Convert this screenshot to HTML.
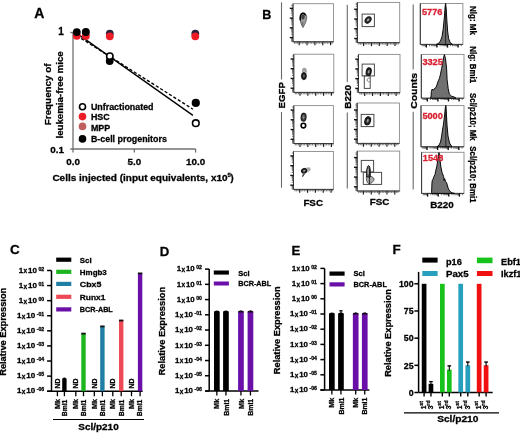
<!DOCTYPE html>
<html><head><meta charset="utf-8"><style>
html,body{margin:0;padding:0;background:#fff;}
svg{display:block;filter:blur(0.3px);}
text{font-family:"Liberation Sans",sans-serif;font-weight:bold;stroke:#000;stroke-width:0.28px;}
</style></head><body>
<svg width="520" height="434" viewBox="0 0 520 434">
<rect width="520" height="434" fill="#fff"/>
<text x="34.2" y="18.2" font-size="14">A</text>
<line x1="73" y1="32.5" x2="73" y2="149.6" stroke="#707070" stroke-width="1.3"/>
<line x1="70.3" y1="32.5" x2="73" y2="32.5" stroke="#707070" stroke-width="1.3"/>
<line x1="70.3" y1="149" x2="195.6" y2="149" stroke="#707070" stroke-width="1.3"/>
<line x1="73" y1="149" x2="73" y2="152.6" stroke="#707070" stroke-width="1.3"/>
<line x1="134.3" y1="149" x2="134.3" y2="152.6" stroke="#707070" stroke-width="1.3"/>
<line x1="195.6" y1="149" x2="195.6" y2="152.6" stroke="#707070" stroke-width="1.3"/>
<text x="63.9" y="35.4" font-size="10" text-anchor="end">1</text>
<text x="64.0" y="152.7" font-size="9.9" text-anchor="end">0.1</text>
<text x="73.1" y="164.6" font-size="9.9" text-anchor="middle">0.0</text>
<text x="134.3" y="164.6" font-size="9.9" text-anchor="middle">5.0</text>
<text x="195.7" y="164.6" font-size="9.9" text-anchor="middle">10.0</text>
<text x="52.4" y="180.7" font-size="9.4" textLength="175.2" lengthAdjust="spacingAndGlyphs">Cells injected (input equivalents, x10</text>
<text x="227.6" y="177.0" font-size="6.0">5</text>
<text x="230.6" y="180.7" font-size="9.4">)</text>
<text x="51.4" y="94.3" font-size="9.4" text-anchor="middle" transform="rotate(-90 51.4 94.3)" textLength="61.8" lengthAdjust="spacingAndGlyphs">Frequency of</text>
<text x="62.7" y="94.9" font-size="9.3" text-anchor="middle" transform="rotate(-90 62.7 94.9)" textLength="87.2" lengthAdjust="spacingAndGlyphs">leukemia-free mice</text>
<line x1="76.8" y1="33.4" x2="192.9" y2="115.4" stroke="#000" stroke-width="1.35"/>
<line x1="76.8" y1="35.6" x2="192.9" y2="109.2" stroke="#000" stroke-width="1.35" stroke-dasharray="3.2,2"/>
<circle cx="76.8" cy="35.8" r="3.9" fill="#ee1c24" stroke="none" stroke-width="1"/>
<circle cx="85.85" cy="35.9" r="3.9" fill="#ee1c24" stroke="none" stroke-width="1"/>
<circle cx="76.8" cy="32.1" r="3.9" fill="#000" stroke="none" stroke-width="1"/>
<circle cx="85.85" cy="31.9" r="4.0" fill="#000" stroke="none" stroke-width="1"/>
<circle cx="109.8" cy="33.6" r="3.9" fill="#24243e" stroke="none" stroke-width="1"/>
<circle cx="109.8" cy="36.3" r="3.9" fill="#ee1c24" stroke="none" stroke-width="1"/>
<circle cx="195.3" cy="33.6" r="3.9" fill="#24243e" stroke="none" stroke-width="1"/>
<circle cx="195.3" cy="36.3" r="3.9" fill="#ee1c24" stroke="none" stroke-width="1"/>
<circle cx="109.7" cy="61.0" r="3.9" fill="#000" stroke="none" stroke-width="1"/>
<circle cx="109.8" cy="56.2" r="3.2" fill="#fff" stroke="#000" stroke-width="1.6"/>
<circle cx="195.8" cy="102.9" r="4.1" fill="#000" stroke="none" stroke-width="1"/>
<circle cx="195.8" cy="123.2" r="3.3" fill="#fff" stroke="#000" stroke-width="1.6"/>
<circle cx="82.5" cy="106.7" r="3.0" fill="#fff" stroke="#000" stroke-width="1.6"/>
<circle cx="82.5" cy="116.6" r="3.8" fill="#ee1c24" stroke="none" stroke-width="1"/>
<circle cx="82.5" cy="126.4" r="3.8" fill="#c0605e" stroke="none" stroke-width="1"/>
<circle cx="82.5" cy="138.9" r="3.8" fill="#000" stroke="none" stroke-width="1"/>
<text x="90.9" y="109.8" font-size="8.9">Unfractionated</text>
<text x="90.9" y="120.2" font-size="8.9">HSC</text>
<text x="90.9" y="130.9" font-size="8.9">MPP</text>
<text x="90.9" y="141.9" font-size="8.9">B-cell progenitors</text>
<text x="262.3" y="18.6" font-size="12.6">B</text>
<line x1="281.5" y1="2.3" x2="281.5" y2="79.5" stroke="#6a6a6a" stroke-width="1.1"/>
<line x1="281.5" y1="112" x2="281.5" y2="187.7" stroke="#6a6a6a" stroke-width="1.1"/>
<text x="284.6" y="95.3" font-size="9.6" text-anchor="middle" transform="rotate(-90 284.6 95.3)" textLength="26.2" lengthAdjust="spacingAndGlyphs">EGFP</text>
<line x1="347.3" y1="4.8" x2="347.3" y2="82.0" stroke="#6a6a6a" stroke-width="1.1"/>
<line x1="347.3" y1="112.5" x2="347.3" y2="188.5" stroke="#6a6a6a" stroke-width="1.1"/>
<text x="351.3" y="96.9" font-size="9.6" text-anchor="middle" transform="rotate(-90 351.3 96.9)" textLength="23.8" lengthAdjust="spacingAndGlyphs">B220</text>
<line x1="413.2" y1="4.5" x2="413.2" y2="69.6" stroke="#6a6a6a" stroke-width="1.1"/>
<line x1="413.2" y1="111.7" x2="413.2" y2="189.4" stroke="#6a6a6a" stroke-width="1.1"/>
<text x="417.0" y="90.9" font-size="9.6" text-anchor="middle" transform="rotate(-90 417.0 90.9)" textLength="35.8" lengthAdjust="spacingAndGlyphs">Counts</text>
<rect x="293.00" y="3.70" width="40.50" height="38.10" fill="#fff" stroke="#8a8a8a" stroke-width="0.9"/>
<line x1="293" y1="3.7" x2="293" y2="41.8" stroke="#333" stroke-width="1"/>
<line x1="293" y1="41.8" x2="333.5" y2="41.8" stroke="#333" stroke-width="1"/>
<line x1="294.49" y1="41.8" x2="294.49" y2="43.699999999999996" stroke="#555" stroke-width="0.85"/>
<line x1="296.06" y1="41.8" x2="296.06" y2="43.699999999999996" stroke="#555" stroke-width="0.85"/>
<line x1="297.63" y1="41.8" x2="297.63" y2="43.699999999999996" stroke="#555" stroke-width="0.85"/>
<line x1="299.2" y1="41.8" x2="299.2" y2="45.199999999999996" stroke="#222" stroke-width="1.2"/>
<line x1="300.77" y1="41.8" x2="300.77" y2="43.699999999999996" stroke="#555" stroke-width="0.85"/>
<line x1="302.34" y1="41.8" x2="302.34" y2="43.699999999999996" stroke="#555" stroke-width="0.85"/>
<line x1="303.91" y1="41.8" x2="303.91" y2="43.699999999999996" stroke="#555" stroke-width="0.85"/>
<line x1="305.48" y1="41.8" x2="305.48" y2="43.699999999999996" stroke="#555" stroke-width="0.85"/>
<line x1="307.05" y1="41.8" x2="307.05" y2="45.199999999999996" stroke="#222" stroke-width="1.2"/>
<line x1="308.62" y1="41.8" x2="308.62" y2="43.699999999999996" stroke="#555" stroke-width="0.85"/>
<line x1="310.19" y1="41.8" x2="310.19" y2="43.699999999999996" stroke="#555" stroke-width="0.85"/>
<line x1="311.76" y1="41.8" x2="311.76" y2="43.699999999999996" stroke="#555" stroke-width="0.85"/>
<line x1="313.33" y1="41.8" x2="313.33" y2="43.699999999999996" stroke="#555" stroke-width="0.85"/>
<line x1="314.9" y1="41.8" x2="314.9" y2="45.199999999999996" stroke="#222" stroke-width="1.2"/>
<line x1="316.47" y1="41.8" x2="316.47" y2="43.699999999999996" stroke="#555" stroke-width="0.85"/>
<line x1="318.04" y1="41.8" x2="318.04" y2="43.699999999999996" stroke="#555" stroke-width="0.85"/>
<line x1="319.61" y1="41.8" x2="319.61" y2="43.699999999999996" stroke="#555" stroke-width="0.85"/>
<line x1="321.18" y1="41.8" x2="321.18" y2="43.699999999999996" stroke="#555" stroke-width="0.85"/>
<line x1="322.75" y1="41.8" x2="322.75" y2="45.199999999999996" stroke="#222" stroke-width="1.2"/>
<line x1="324.32" y1="41.8" x2="324.32" y2="43.699999999999996" stroke="#555" stroke-width="0.85"/>
<line x1="325.89" y1="41.8" x2="325.89" y2="43.699999999999996" stroke="#555" stroke-width="0.85"/>
<line x1="327.46" y1="41.8" x2="327.46" y2="43.699999999999996" stroke="#555" stroke-width="0.85"/>
<line x1="329.03" y1="41.8" x2="329.03" y2="43.699999999999996" stroke="#555" stroke-width="0.85"/>
<line x1="330.6" y1="41.8" x2="330.6" y2="45.199999999999996" stroke="#222" stroke-width="1.2"/>
<line x1="332.17" y1="41.8" x2="332.17" y2="43.699999999999996" stroke="#555" stroke-width="0.85"/>
<line x1="291.3" y1="41.48" x2="293" y2="41.48" stroke="#555" stroke-width="0.85"/>
<line x1="291.3" y1="40.54" x2="293" y2="40.54" stroke="#555" stroke-width="0.85"/>
<line x1="291.3" y1="39.76" x2="293" y2="39.76" stroke="#555" stroke-width="0.85"/>
<line x1="291.3" y1="39.11" x2="293" y2="39.11" stroke="#555" stroke-width="0.85"/>
<line x1="291.3" y1="38.54" x2="293" y2="38.54" stroke="#555" stroke-width="0.85"/>
<line x1="291.3" y1="38.05" x2="293" y2="38.05" stroke="#555" stroke-width="0.85"/>
<line x1="289.8" y1="37.6" x2="293" y2="37.6" stroke="#111" stroke-width="1.4"/>
<line x1="291.3" y1="34.66" x2="293" y2="34.66" stroke="#555" stroke-width="0.85"/>
<line x1="291.3" y1="32.95" x2="293" y2="32.95" stroke="#555" stroke-width="0.85"/>
<line x1="291.3" y1="31.73" x2="293" y2="31.73" stroke="#555" stroke-width="0.85"/>
<line x1="291.3" y1="30.79" x2="293" y2="30.79" stroke="#555" stroke-width="0.85"/>
<line x1="291.3" y1="30.01" x2="293" y2="30.01" stroke="#555" stroke-width="0.85"/>
<line x1="291.3" y1="29.36" x2="293" y2="29.36" stroke="#555" stroke-width="0.85"/>
<line x1="291.3" y1="28.79" x2="293" y2="28.79" stroke="#555" stroke-width="0.85"/>
<line x1="291.3" y1="28.3" x2="293" y2="28.3" stroke="#555" stroke-width="0.85"/>
<line x1="289.8" y1="27.85" x2="293" y2="27.85" stroke="#111" stroke-width="1.4"/>
<line x1="291.3" y1="24.91" x2="293" y2="24.91" stroke="#555" stroke-width="0.85"/>
<line x1="291.3" y1="23.2" x2="293" y2="23.2" stroke="#555" stroke-width="0.85"/>
<line x1="291.3" y1="21.98" x2="293" y2="21.98" stroke="#555" stroke-width="0.85"/>
<line x1="291.3" y1="21.04" x2="293" y2="21.04" stroke="#555" stroke-width="0.85"/>
<line x1="291.3" y1="20.26" x2="293" y2="20.26" stroke="#555" stroke-width="0.85"/>
<line x1="291.3" y1="19.61" x2="293" y2="19.61" stroke="#555" stroke-width="0.85"/>
<line x1="291.3" y1="19.04" x2="293" y2="19.04" stroke="#555" stroke-width="0.85"/>
<line x1="291.3" y1="18.55" x2="293" y2="18.55" stroke="#555" stroke-width="0.85"/>
<line x1="289.8" y1="18.1" x2="293" y2="18.1" stroke="#111" stroke-width="1.4"/>
<line x1="291.3" y1="15.16" x2="293" y2="15.16" stroke="#555" stroke-width="0.85"/>
<line x1="291.3" y1="13.45" x2="293" y2="13.45" stroke="#555" stroke-width="0.85"/>
<line x1="291.3" y1="12.23" x2="293" y2="12.23" stroke="#555" stroke-width="0.85"/>
<line x1="291.3" y1="11.29" x2="293" y2="11.29" stroke="#555" stroke-width="0.85"/>
<line x1="291.3" y1="10.51" x2="293" y2="10.51" stroke="#555" stroke-width="0.85"/>
<line x1="291.3" y1="9.86" x2="293" y2="9.86" stroke="#555" stroke-width="0.85"/>
<line x1="291.3" y1="9.29" x2="293" y2="9.29" stroke="#555" stroke-width="0.85"/>
<line x1="291.3" y1="8.8" x2="293" y2="8.8" stroke="#555" stroke-width="0.85"/>
<line x1="289.8" y1="8.35" x2="293" y2="8.35" stroke="#111" stroke-width="1.4"/>
<line x1="291.3" y1="5.41" x2="293" y2="5.41" stroke="#555" stroke-width="0.85"/>
<rect x="293.80" y="54.20" width="40.00" height="38.20" fill="#fff" stroke="#8a8a8a" stroke-width="0.9"/>
<line x1="293.8" y1="54.2" x2="293.8" y2="92.4" stroke="#333" stroke-width="1"/>
<line x1="293.8" y1="92.4" x2="333.8" y2="92.4" stroke="#333" stroke-width="1"/>
<line x1="295.29" y1="92.4" x2="295.29" y2="94.30000000000001" stroke="#555" stroke-width="0.85"/>
<line x1="296.86" y1="92.4" x2="296.86" y2="94.30000000000001" stroke="#555" stroke-width="0.85"/>
<line x1="298.43" y1="92.4" x2="298.43" y2="94.30000000000001" stroke="#555" stroke-width="0.85"/>
<line x1="300.0" y1="92.4" x2="300.0" y2="95.80000000000001" stroke="#222" stroke-width="1.2"/>
<line x1="301.57" y1="92.4" x2="301.57" y2="94.30000000000001" stroke="#555" stroke-width="0.85"/>
<line x1="303.14" y1="92.4" x2="303.14" y2="94.30000000000001" stroke="#555" stroke-width="0.85"/>
<line x1="304.71" y1="92.4" x2="304.71" y2="94.30000000000001" stroke="#555" stroke-width="0.85"/>
<line x1="306.28" y1="92.4" x2="306.28" y2="94.30000000000001" stroke="#555" stroke-width="0.85"/>
<line x1="307.85" y1="92.4" x2="307.85" y2="95.80000000000001" stroke="#222" stroke-width="1.2"/>
<line x1="309.42" y1="92.4" x2="309.42" y2="94.30000000000001" stroke="#555" stroke-width="0.85"/>
<line x1="310.99" y1="92.4" x2="310.99" y2="94.30000000000001" stroke="#555" stroke-width="0.85"/>
<line x1="312.56" y1="92.4" x2="312.56" y2="94.30000000000001" stroke="#555" stroke-width="0.85"/>
<line x1="314.13" y1="92.4" x2="314.13" y2="94.30000000000001" stroke="#555" stroke-width="0.85"/>
<line x1="315.7" y1="92.4" x2="315.7" y2="95.80000000000001" stroke="#222" stroke-width="1.2"/>
<line x1="317.27" y1="92.4" x2="317.27" y2="94.30000000000001" stroke="#555" stroke-width="0.85"/>
<line x1="318.84" y1="92.4" x2="318.84" y2="94.30000000000001" stroke="#555" stroke-width="0.85"/>
<line x1="320.41" y1="92.4" x2="320.41" y2="94.30000000000001" stroke="#555" stroke-width="0.85"/>
<line x1="321.98" y1="92.4" x2="321.98" y2="94.30000000000001" stroke="#555" stroke-width="0.85"/>
<line x1="323.55" y1="92.4" x2="323.55" y2="95.80000000000001" stroke="#222" stroke-width="1.2"/>
<line x1="325.12" y1="92.4" x2="325.12" y2="94.30000000000001" stroke="#555" stroke-width="0.85"/>
<line x1="326.69" y1="92.4" x2="326.69" y2="94.30000000000001" stroke="#555" stroke-width="0.85"/>
<line x1="328.26" y1="92.4" x2="328.26" y2="94.30000000000001" stroke="#555" stroke-width="0.85"/>
<line x1="329.83" y1="92.4" x2="329.83" y2="94.30000000000001" stroke="#555" stroke-width="0.85"/>
<line x1="331.4" y1="92.4" x2="331.4" y2="95.80000000000001" stroke="#222" stroke-width="1.2"/>
<line x1="332.97" y1="92.4" x2="332.97" y2="94.30000000000001" stroke="#555" stroke-width="0.85"/>
<line x1="292.1" y1="92.08" x2="293.8" y2="92.08" stroke="#555" stroke-width="0.85"/>
<line x1="292.1" y1="91.14" x2="293.8" y2="91.14" stroke="#555" stroke-width="0.85"/>
<line x1="292.1" y1="90.36" x2="293.8" y2="90.36" stroke="#555" stroke-width="0.85"/>
<line x1="292.1" y1="89.71" x2="293.8" y2="89.71" stroke="#555" stroke-width="0.85"/>
<line x1="292.1" y1="89.14" x2="293.8" y2="89.14" stroke="#555" stroke-width="0.85"/>
<line x1="292.1" y1="88.65" x2="293.8" y2="88.65" stroke="#555" stroke-width="0.85"/>
<line x1="290.6" y1="88.2" x2="293.8" y2="88.2" stroke="#111" stroke-width="1.4"/>
<line x1="292.1" y1="85.26" x2="293.8" y2="85.26" stroke="#555" stroke-width="0.85"/>
<line x1="292.1" y1="83.55" x2="293.8" y2="83.55" stroke="#555" stroke-width="0.85"/>
<line x1="292.1" y1="82.33" x2="293.8" y2="82.33" stroke="#555" stroke-width="0.85"/>
<line x1="292.1" y1="81.39" x2="293.8" y2="81.39" stroke="#555" stroke-width="0.85"/>
<line x1="292.1" y1="80.61" x2="293.8" y2="80.61" stroke="#555" stroke-width="0.85"/>
<line x1="292.1" y1="79.96" x2="293.8" y2="79.96" stroke="#555" stroke-width="0.85"/>
<line x1="292.1" y1="79.39" x2="293.8" y2="79.39" stroke="#555" stroke-width="0.85"/>
<line x1="292.1" y1="78.9" x2="293.8" y2="78.9" stroke="#555" stroke-width="0.85"/>
<line x1="290.6" y1="78.45" x2="293.8" y2="78.45" stroke="#111" stroke-width="1.4"/>
<line x1="292.1" y1="75.51" x2="293.8" y2="75.51" stroke="#555" stroke-width="0.85"/>
<line x1="292.1" y1="73.8" x2="293.8" y2="73.8" stroke="#555" stroke-width="0.85"/>
<line x1="292.1" y1="72.58" x2="293.8" y2="72.58" stroke="#555" stroke-width="0.85"/>
<line x1="292.1" y1="71.64" x2="293.8" y2="71.64" stroke="#555" stroke-width="0.85"/>
<line x1="292.1" y1="70.86" x2="293.8" y2="70.86" stroke="#555" stroke-width="0.85"/>
<line x1="292.1" y1="70.21" x2="293.8" y2="70.21" stroke="#555" stroke-width="0.85"/>
<line x1="292.1" y1="69.64" x2="293.8" y2="69.64" stroke="#555" stroke-width="0.85"/>
<line x1="292.1" y1="69.15" x2="293.8" y2="69.15" stroke="#555" stroke-width="0.85"/>
<line x1="290.6" y1="68.7" x2="293.8" y2="68.7" stroke="#111" stroke-width="1.4"/>
<line x1="292.1" y1="65.76" x2="293.8" y2="65.76" stroke="#555" stroke-width="0.85"/>
<line x1="292.1" y1="64.05" x2="293.8" y2="64.05" stroke="#555" stroke-width="0.85"/>
<line x1="292.1" y1="62.83" x2="293.8" y2="62.83" stroke="#555" stroke-width="0.85"/>
<line x1="292.1" y1="61.89" x2="293.8" y2="61.89" stroke="#555" stroke-width="0.85"/>
<line x1="292.1" y1="61.11" x2="293.8" y2="61.11" stroke="#555" stroke-width="0.85"/>
<line x1="292.1" y1="60.46" x2="293.8" y2="60.46" stroke="#555" stroke-width="0.85"/>
<line x1="292.1" y1="59.89" x2="293.8" y2="59.89" stroke="#555" stroke-width="0.85"/>
<line x1="292.1" y1="59.4" x2="293.8" y2="59.4" stroke="#555" stroke-width="0.85"/>
<line x1="290.6" y1="58.95" x2="293.8" y2="58.95" stroke="#111" stroke-width="1.4"/>
<line x1="292.1" y1="56.01" x2="293.8" y2="56.01" stroke="#555" stroke-width="0.85"/>
<rect x="293.80" y="105.60" width="39.60" height="37.90" fill="#fff" stroke="#8a8a8a" stroke-width="0.9"/>
<line x1="293.8" y1="105.6" x2="293.8" y2="143.5" stroke="#333" stroke-width="1"/>
<line x1="293.8" y1="143.5" x2="333.4" y2="143.5" stroke="#333" stroke-width="1"/>
<line x1="295.29" y1="143.5" x2="295.29" y2="145.4" stroke="#555" stroke-width="0.85"/>
<line x1="296.86" y1="143.5" x2="296.86" y2="145.4" stroke="#555" stroke-width="0.85"/>
<line x1="298.43" y1="143.5" x2="298.43" y2="145.4" stroke="#555" stroke-width="0.85"/>
<line x1="300.0" y1="143.5" x2="300.0" y2="146.9" stroke="#222" stroke-width="1.2"/>
<line x1="301.57" y1="143.5" x2="301.57" y2="145.4" stroke="#555" stroke-width="0.85"/>
<line x1="303.14" y1="143.5" x2="303.14" y2="145.4" stroke="#555" stroke-width="0.85"/>
<line x1="304.71" y1="143.5" x2="304.71" y2="145.4" stroke="#555" stroke-width="0.85"/>
<line x1="306.28" y1="143.5" x2="306.28" y2="145.4" stroke="#555" stroke-width="0.85"/>
<line x1="307.85" y1="143.5" x2="307.85" y2="146.9" stroke="#222" stroke-width="1.2"/>
<line x1="309.42" y1="143.5" x2="309.42" y2="145.4" stroke="#555" stroke-width="0.85"/>
<line x1="310.99" y1="143.5" x2="310.99" y2="145.4" stroke="#555" stroke-width="0.85"/>
<line x1="312.56" y1="143.5" x2="312.56" y2="145.4" stroke="#555" stroke-width="0.85"/>
<line x1="314.13" y1="143.5" x2="314.13" y2="145.4" stroke="#555" stroke-width="0.85"/>
<line x1="315.7" y1="143.5" x2="315.7" y2="146.9" stroke="#222" stroke-width="1.2"/>
<line x1="317.27" y1="143.5" x2="317.27" y2="145.4" stroke="#555" stroke-width="0.85"/>
<line x1="318.84" y1="143.5" x2="318.84" y2="145.4" stroke="#555" stroke-width="0.85"/>
<line x1="320.41" y1="143.5" x2="320.41" y2="145.4" stroke="#555" stroke-width="0.85"/>
<line x1="321.98" y1="143.5" x2="321.98" y2="145.4" stroke="#555" stroke-width="0.85"/>
<line x1="323.55" y1="143.5" x2="323.55" y2="146.9" stroke="#222" stroke-width="1.2"/>
<line x1="325.12" y1="143.5" x2="325.12" y2="145.4" stroke="#555" stroke-width="0.85"/>
<line x1="326.69" y1="143.5" x2="326.69" y2="145.4" stroke="#555" stroke-width="0.85"/>
<line x1="328.26" y1="143.5" x2="328.26" y2="145.4" stroke="#555" stroke-width="0.85"/>
<line x1="329.83" y1="143.5" x2="329.83" y2="145.4" stroke="#555" stroke-width="0.85"/>
<line x1="331.4" y1="143.5" x2="331.4" y2="146.9" stroke="#222" stroke-width="1.2"/>
<line x1="332.97" y1="143.5" x2="332.97" y2="145.4" stroke="#555" stroke-width="0.85"/>
<line x1="292.1" y1="143.18" x2="293.8" y2="143.18" stroke="#555" stroke-width="0.85"/>
<line x1="292.1" y1="142.24" x2="293.8" y2="142.24" stroke="#555" stroke-width="0.85"/>
<line x1="292.1" y1="141.46" x2="293.8" y2="141.46" stroke="#555" stroke-width="0.85"/>
<line x1="292.1" y1="140.81" x2="293.8" y2="140.81" stroke="#555" stroke-width="0.85"/>
<line x1="292.1" y1="140.24" x2="293.8" y2="140.24" stroke="#555" stroke-width="0.85"/>
<line x1="292.1" y1="139.75" x2="293.8" y2="139.75" stroke="#555" stroke-width="0.85"/>
<line x1="290.6" y1="139.3" x2="293.8" y2="139.3" stroke="#111" stroke-width="1.4"/>
<line x1="292.1" y1="136.36" x2="293.8" y2="136.36" stroke="#555" stroke-width="0.85"/>
<line x1="292.1" y1="134.65" x2="293.8" y2="134.65" stroke="#555" stroke-width="0.85"/>
<line x1="292.1" y1="133.43" x2="293.8" y2="133.43" stroke="#555" stroke-width="0.85"/>
<line x1="292.1" y1="132.49" x2="293.8" y2="132.49" stroke="#555" stroke-width="0.85"/>
<line x1="292.1" y1="131.71" x2="293.8" y2="131.71" stroke="#555" stroke-width="0.85"/>
<line x1="292.1" y1="131.06" x2="293.8" y2="131.06" stroke="#555" stroke-width="0.85"/>
<line x1="292.1" y1="130.49" x2="293.8" y2="130.49" stroke="#555" stroke-width="0.85"/>
<line x1="292.1" y1="130.0" x2="293.8" y2="130.0" stroke="#555" stroke-width="0.85"/>
<line x1="290.6" y1="129.55" x2="293.8" y2="129.55" stroke="#111" stroke-width="1.4"/>
<line x1="292.1" y1="126.61" x2="293.8" y2="126.61" stroke="#555" stroke-width="0.85"/>
<line x1="292.1" y1="124.9" x2="293.8" y2="124.9" stroke="#555" stroke-width="0.85"/>
<line x1="292.1" y1="123.68" x2="293.8" y2="123.68" stroke="#555" stroke-width="0.85"/>
<line x1="292.1" y1="122.74" x2="293.8" y2="122.74" stroke="#555" stroke-width="0.85"/>
<line x1="292.1" y1="121.96" x2="293.8" y2="121.96" stroke="#555" stroke-width="0.85"/>
<line x1="292.1" y1="121.31" x2="293.8" y2="121.31" stroke="#555" stroke-width="0.85"/>
<line x1="292.1" y1="120.74" x2="293.8" y2="120.74" stroke="#555" stroke-width="0.85"/>
<line x1="292.1" y1="120.25" x2="293.8" y2="120.25" stroke="#555" stroke-width="0.85"/>
<line x1="290.6" y1="119.8" x2="293.8" y2="119.8" stroke="#111" stroke-width="1.4"/>
<line x1="292.1" y1="116.86" x2="293.8" y2="116.86" stroke="#555" stroke-width="0.85"/>
<line x1="292.1" y1="115.15" x2="293.8" y2="115.15" stroke="#555" stroke-width="0.85"/>
<line x1="292.1" y1="113.93" x2="293.8" y2="113.93" stroke="#555" stroke-width="0.85"/>
<line x1="292.1" y1="112.99" x2="293.8" y2="112.99" stroke="#555" stroke-width="0.85"/>
<line x1="292.1" y1="112.21" x2="293.8" y2="112.21" stroke="#555" stroke-width="0.85"/>
<line x1="292.1" y1="111.56" x2="293.8" y2="111.56" stroke="#555" stroke-width="0.85"/>
<line x1="292.1" y1="110.99" x2="293.8" y2="110.99" stroke="#555" stroke-width="0.85"/>
<line x1="292.1" y1="110.5" x2="293.8" y2="110.5" stroke="#555" stroke-width="0.85"/>
<line x1="290.6" y1="110.05" x2="293.8" y2="110.05" stroke="#111" stroke-width="1.4"/>
<line x1="292.1" y1="107.11" x2="293.8" y2="107.11" stroke="#555" stroke-width="0.85"/>
<rect x="293.50" y="151.50" width="39.90" height="37.90" fill="#fff" stroke="#8a8a8a" stroke-width="0.9"/>
<line x1="293.5" y1="151.5" x2="293.5" y2="189.4" stroke="#333" stroke-width="1"/>
<line x1="293.5" y1="189.4" x2="333.4" y2="189.4" stroke="#333" stroke-width="1"/>
<line x1="294.99" y1="189.4" x2="294.99" y2="191.3" stroke="#555" stroke-width="0.85"/>
<line x1="296.56" y1="189.4" x2="296.56" y2="191.3" stroke="#555" stroke-width="0.85"/>
<line x1="298.13" y1="189.4" x2="298.13" y2="191.3" stroke="#555" stroke-width="0.85"/>
<line x1="299.7" y1="189.4" x2="299.7" y2="192.8" stroke="#222" stroke-width="1.2"/>
<line x1="301.27" y1="189.4" x2="301.27" y2="191.3" stroke="#555" stroke-width="0.85"/>
<line x1="302.84" y1="189.4" x2="302.84" y2="191.3" stroke="#555" stroke-width="0.85"/>
<line x1="304.41" y1="189.4" x2="304.41" y2="191.3" stroke="#555" stroke-width="0.85"/>
<line x1="305.98" y1="189.4" x2="305.98" y2="191.3" stroke="#555" stroke-width="0.85"/>
<line x1="307.55" y1="189.4" x2="307.55" y2="192.8" stroke="#222" stroke-width="1.2"/>
<line x1="309.12" y1="189.4" x2="309.12" y2="191.3" stroke="#555" stroke-width="0.85"/>
<line x1="310.69" y1="189.4" x2="310.69" y2="191.3" stroke="#555" stroke-width="0.85"/>
<line x1="312.26" y1="189.4" x2="312.26" y2="191.3" stroke="#555" stroke-width="0.85"/>
<line x1="313.83" y1="189.4" x2="313.83" y2="191.3" stroke="#555" stroke-width="0.85"/>
<line x1="315.4" y1="189.4" x2="315.4" y2="192.8" stroke="#222" stroke-width="1.2"/>
<line x1="316.97" y1="189.4" x2="316.97" y2="191.3" stroke="#555" stroke-width="0.85"/>
<line x1="318.54" y1="189.4" x2="318.54" y2="191.3" stroke="#555" stroke-width="0.85"/>
<line x1="320.11" y1="189.4" x2="320.11" y2="191.3" stroke="#555" stroke-width="0.85"/>
<line x1="321.68" y1="189.4" x2="321.68" y2="191.3" stroke="#555" stroke-width="0.85"/>
<line x1="323.25" y1="189.4" x2="323.25" y2="192.8" stroke="#222" stroke-width="1.2"/>
<line x1="324.82" y1="189.4" x2="324.82" y2="191.3" stroke="#555" stroke-width="0.85"/>
<line x1="326.39" y1="189.4" x2="326.39" y2="191.3" stroke="#555" stroke-width="0.85"/>
<line x1="327.96" y1="189.4" x2="327.96" y2="191.3" stroke="#555" stroke-width="0.85"/>
<line x1="329.53" y1="189.4" x2="329.53" y2="191.3" stroke="#555" stroke-width="0.85"/>
<line x1="331.1" y1="189.4" x2="331.1" y2="192.8" stroke="#222" stroke-width="1.2"/>
<line x1="332.67" y1="189.4" x2="332.67" y2="191.3" stroke="#555" stroke-width="0.85"/>
<line x1="291.8" y1="189.08" x2="293.5" y2="189.08" stroke="#555" stroke-width="0.85"/>
<line x1="291.8" y1="188.14" x2="293.5" y2="188.14" stroke="#555" stroke-width="0.85"/>
<line x1="291.8" y1="187.36" x2="293.5" y2="187.36" stroke="#555" stroke-width="0.85"/>
<line x1="291.8" y1="186.71" x2="293.5" y2="186.71" stroke="#555" stroke-width="0.85"/>
<line x1="291.8" y1="186.14" x2="293.5" y2="186.14" stroke="#555" stroke-width="0.85"/>
<line x1="291.8" y1="185.65" x2="293.5" y2="185.65" stroke="#555" stroke-width="0.85"/>
<line x1="290.3" y1="185.2" x2="293.5" y2="185.2" stroke="#111" stroke-width="1.4"/>
<line x1="291.8" y1="182.26" x2="293.5" y2="182.26" stroke="#555" stroke-width="0.85"/>
<line x1="291.8" y1="180.55" x2="293.5" y2="180.55" stroke="#555" stroke-width="0.85"/>
<line x1="291.8" y1="179.33" x2="293.5" y2="179.33" stroke="#555" stroke-width="0.85"/>
<line x1="291.8" y1="178.39" x2="293.5" y2="178.39" stroke="#555" stroke-width="0.85"/>
<line x1="291.8" y1="177.61" x2="293.5" y2="177.61" stroke="#555" stroke-width="0.85"/>
<line x1="291.8" y1="176.96" x2="293.5" y2="176.96" stroke="#555" stroke-width="0.85"/>
<line x1="291.8" y1="176.39" x2="293.5" y2="176.39" stroke="#555" stroke-width="0.85"/>
<line x1="291.8" y1="175.9" x2="293.5" y2="175.9" stroke="#555" stroke-width="0.85"/>
<line x1="290.3" y1="175.45" x2="293.5" y2="175.45" stroke="#111" stroke-width="1.4"/>
<line x1="291.8" y1="172.51" x2="293.5" y2="172.51" stroke="#555" stroke-width="0.85"/>
<line x1="291.8" y1="170.8" x2="293.5" y2="170.8" stroke="#555" stroke-width="0.85"/>
<line x1="291.8" y1="169.58" x2="293.5" y2="169.58" stroke="#555" stroke-width="0.85"/>
<line x1="291.8" y1="168.64" x2="293.5" y2="168.64" stroke="#555" stroke-width="0.85"/>
<line x1="291.8" y1="167.86" x2="293.5" y2="167.86" stroke="#555" stroke-width="0.85"/>
<line x1="291.8" y1="167.21" x2="293.5" y2="167.21" stroke="#555" stroke-width="0.85"/>
<line x1="291.8" y1="166.64" x2="293.5" y2="166.64" stroke="#555" stroke-width="0.85"/>
<line x1="291.8" y1="166.15" x2="293.5" y2="166.15" stroke="#555" stroke-width="0.85"/>
<line x1="290.3" y1="165.7" x2="293.5" y2="165.7" stroke="#111" stroke-width="1.4"/>
<line x1="291.8" y1="162.76" x2="293.5" y2="162.76" stroke="#555" stroke-width="0.85"/>
<line x1="291.8" y1="161.05" x2="293.5" y2="161.05" stroke="#555" stroke-width="0.85"/>
<line x1="291.8" y1="159.83" x2="293.5" y2="159.83" stroke="#555" stroke-width="0.85"/>
<line x1="291.8" y1="158.89" x2="293.5" y2="158.89" stroke="#555" stroke-width="0.85"/>
<line x1="291.8" y1="158.11" x2="293.5" y2="158.11" stroke="#555" stroke-width="0.85"/>
<line x1="291.8" y1="157.46" x2="293.5" y2="157.46" stroke="#555" stroke-width="0.85"/>
<line x1="291.8" y1="156.89" x2="293.5" y2="156.89" stroke="#555" stroke-width="0.85"/>
<line x1="291.8" y1="156.4" x2="293.5" y2="156.4" stroke="#555" stroke-width="0.85"/>
<line x1="290.3" y1="155.95" x2="293.5" y2="155.95" stroke="#111" stroke-width="1.4"/>
<line x1="291.8" y1="153.01" x2="293.5" y2="153.01" stroke="#555" stroke-width="0.85"/>
<rect x="357.40" y="2.40" width="42.30" height="40.30" fill="#fff" stroke="#8a8a8a" stroke-width="0.9"/>
<line x1="357.4" y1="2.4" x2="357.4" y2="42.7" stroke="#333" stroke-width="1"/>
<line x1="357.4" y1="42.7" x2="399.7" y2="42.7" stroke="#333" stroke-width="1"/>
<line x1="358.89" y1="42.7" x2="358.89" y2="44.6" stroke="#555" stroke-width="0.85"/>
<line x1="360.46" y1="42.7" x2="360.46" y2="44.6" stroke="#555" stroke-width="0.85"/>
<line x1="362.03" y1="42.7" x2="362.03" y2="44.6" stroke="#555" stroke-width="0.85"/>
<line x1="363.6" y1="42.7" x2="363.6" y2="46.1" stroke="#222" stroke-width="1.2"/>
<line x1="365.17" y1="42.7" x2="365.17" y2="44.6" stroke="#555" stroke-width="0.85"/>
<line x1="366.74" y1="42.7" x2="366.74" y2="44.6" stroke="#555" stroke-width="0.85"/>
<line x1="368.31" y1="42.7" x2="368.31" y2="44.6" stroke="#555" stroke-width="0.85"/>
<line x1="369.88" y1="42.7" x2="369.88" y2="44.6" stroke="#555" stroke-width="0.85"/>
<line x1="371.45" y1="42.7" x2="371.45" y2="46.1" stroke="#222" stroke-width="1.2"/>
<line x1="373.02" y1="42.7" x2="373.02" y2="44.6" stroke="#555" stroke-width="0.85"/>
<line x1="374.59" y1="42.7" x2="374.59" y2="44.6" stroke="#555" stroke-width="0.85"/>
<line x1="376.16" y1="42.7" x2="376.16" y2="44.6" stroke="#555" stroke-width="0.85"/>
<line x1="377.73" y1="42.7" x2="377.73" y2="44.6" stroke="#555" stroke-width="0.85"/>
<line x1="379.3" y1="42.7" x2="379.3" y2="46.1" stroke="#222" stroke-width="1.2"/>
<line x1="380.87" y1="42.7" x2="380.87" y2="44.6" stroke="#555" stroke-width="0.85"/>
<line x1="382.44" y1="42.7" x2="382.44" y2="44.6" stroke="#555" stroke-width="0.85"/>
<line x1="384.01" y1="42.7" x2="384.01" y2="44.6" stroke="#555" stroke-width="0.85"/>
<line x1="385.58" y1="42.7" x2="385.58" y2="44.6" stroke="#555" stroke-width="0.85"/>
<line x1="387.15" y1="42.7" x2="387.15" y2="46.1" stroke="#222" stroke-width="1.2"/>
<line x1="388.72" y1="42.7" x2="388.72" y2="44.6" stroke="#555" stroke-width="0.85"/>
<line x1="390.29" y1="42.7" x2="390.29" y2="44.6" stroke="#555" stroke-width="0.85"/>
<line x1="391.86" y1="42.7" x2="391.86" y2="44.6" stroke="#555" stroke-width="0.85"/>
<line x1="393.43" y1="42.7" x2="393.43" y2="44.6" stroke="#555" stroke-width="0.85"/>
<line x1="395.0" y1="42.7" x2="395.0" y2="46.1" stroke="#222" stroke-width="1.2"/>
<line x1="396.57" y1="42.7" x2="396.57" y2="44.6" stroke="#555" stroke-width="0.85"/>
<line x1="398.14" y1="42.7" x2="398.14" y2="44.6" stroke="#555" stroke-width="0.85"/>
<line x1="355.7" y1="42.38" x2="357.4" y2="42.38" stroke="#555" stroke-width="0.85"/>
<line x1="355.7" y1="41.44" x2="357.4" y2="41.44" stroke="#555" stroke-width="0.85"/>
<line x1="355.7" y1="40.66" x2="357.4" y2="40.66" stroke="#555" stroke-width="0.85"/>
<line x1="355.7" y1="40.01" x2="357.4" y2="40.01" stroke="#555" stroke-width="0.85"/>
<line x1="355.7" y1="39.44" x2="357.4" y2="39.44" stroke="#555" stroke-width="0.85"/>
<line x1="355.7" y1="38.95" x2="357.4" y2="38.95" stroke="#555" stroke-width="0.85"/>
<line x1="354.2" y1="38.5" x2="357.4" y2="38.5" stroke="#111" stroke-width="1.4"/>
<line x1="355.7" y1="35.56" x2="357.4" y2="35.56" stroke="#555" stroke-width="0.85"/>
<line x1="355.7" y1="33.85" x2="357.4" y2="33.85" stroke="#555" stroke-width="0.85"/>
<line x1="355.7" y1="32.63" x2="357.4" y2="32.63" stroke="#555" stroke-width="0.85"/>
<line x1="355.7" y1="31.69" x2="357.4" y2="31.69" stroke="#555" stroke-width="0.85"/>
<line x1="355.7" y1="30.91" x2="357.4" y2="30.91" stroke="#555" stroke-width="0.85"/>
<line x1="355.7" y1="30.26" x2="357.4" y2="30.26" stroke="#555" stroke-width="0.85"/>
<line x1="355.7" y1="29.69" x2="357.4" y2="29.69" stroke="#555" stroke-width="0.85"/>
<line x1="355.7" y1="29.2" x2="357.4" y2="29.2" stroke="#555" stroke-width="0.85"/>
<line x1="354.2" y1="28.75" x2="357.4" y2="28.75" stroke="#111" stroke-width="1.4"/>
<line x1="355.7" y1="25.81" x2="357.4" y2="25.81" stroke="#555" stroke-width="0.85"/>
<line x1="355.7" y1="24.1" x2="357.4" y2="24.1" stroke="#555" stroke-width="0.85"/>
<line x1="355.7" y1="22.88" x2="357.4" y2="22.88" stroke="#555" stroke-width="0.85"/>
<line x1="355.7" y1="21.94" x2="357.4" y2="21.94" stroke="#555" stroke-width="0.85"/>
<line x1="355.7" y1="21.16" x2="357.4" y2="21.16" stroke="#555" stroke-width="0.85"/>
<line x1="355.7" y1="20.51" x2="357.4" y2="20.51" stroke="#555" stroke-width="0.85"/>
<line x1="355.7" y1="19.94" x2="357.4" y2="19.94" stroke="#555" stroke-width="0.85"/>
<line x1="355.7" y1="19.45" x2="357.4" y2="19.45" stroke="#555" stroke-width="0.85"/>
<line x1="354.2" y1="19.0" x2="357.4" y2="19.0" stroke="#111" stroke-width="1.4"/>
<line x1="355.7" y1="16.06" x2="357.4" y2="16.06" stroke="#555" stroke-width="0.85"/>
<line x1="355.7" y1="14.35" x2="357.4" y2="14.35" stroke="#555" stroke-width="0.85"/>
<line x1="355.7" y1="13.13" x2="357.4" y2="13.13" stroke="#555" stroke-width="0.85"/>
<line x1="355.7" y1="12.19" x2="357.4" y2="12.19" stroke="#555" stroke-width="0.85"/>
<line x1="355.7" y1="11.41" x2="357.4" y2="11.41" stroke="#555" stroke-width="0.85"/>
<line x1="355.7" y1="10.76" x2="357.4" y2="10.76" stroke="#555" stroke-width="0.85"/>
<line x1="355.7" y1="10.19" x2="357.4" y2="10.19" stroke="#555" stroke-width="0.85"/>
<line x1="355.7" y1="9.7" x2="357.4" y2="9.7" stroke="#555" stroke-width="0.85"/>
<line x1="354.2" y1="9.25" x2="357.4" y2="9.25" stroke="#111" stroke-width="1.4"/>
<line x1="355.7" y1="6.31" x2="357.4" y2="6.31" stroke="#555" stroke-width="0.85"/>
<line x1="355.7" y1="4.6" x2="357.4" y2="4.6" stroke="#555" stroke-width="0.85"/>
<line x1="355.7" y1="3.38" x2="357.4" y2="3.38" stroke="#555" stroke-width="0.85"/>
<rect x="358.50" y="54.40" width="41.50" height="38.20" fill="#fff" stroke="#8a8a8a" stroke-width="0.9"/>
<line x1="358.5" y1="54.4" x2="358.5" y2="92.6" stroke="#333" stroke-width="1"/>
<line x1="358.5" y1="92.6" x2="400" y2="92.6" stroke="#333" stroke-width="1"/>
<line x1="359.99" y1="92.6" x2="359.99" y2="94.5" stroke="#555" stroke-width="0.85"/>
<line x1="361.56" y1="92.6" x2="361.56" y2="94.5" stroke="#555" stroke-width="0.85"/>
<line x1="363.13" y1="92.6" x2="363.13" y2="94.5" stroke="#555" stroke-width="0.85"/>
<line x1="364.7" y1="92.6" x2="364.7" y2="96.0" stroke="#222" stroke-width="1.2"/>
<line x1="366.27" y1="92.6" x2="366.27" y2="94.5" stroke="#555" stroke-width="0.85"/>
<line x1="367.84" y1="92.6" x2="367.84" y2="94.5" stroke="#555" stroke-width="0.85"/>
<line x1="369.41" y1="92.6" x2="369.41" y2="94.5" stroke="#555" stroke-width="0.85"/>
<line x1="370.98" y1="92.6" x2="370.98" y2="94.5" stroke="#555" stroke-width="0.85"/>
<line x1="372.55" y1="92.6" x2="372.55" y2="96.0" stroke="#222" stroke-width="1.2"/>
<line x1="374.12" y1="92.6" x2="374.12" y2="94.5" stroke="#555" stroke-width="0.85"/>
<line x1="375.69" y1="92.6" x2="375.69" y2="94.5" stroke="#555" stroke-width="0.85"/>
<line x1="377.26" y1="92.6" x2="377.26" y2="94.5" stroke="#555" stroke-width="0.85"/>
<line x1="378.83" y1="92.6" x2="378.83" y2="94.5" stroke="#555" stroke-width="0.85"/>
<line x1="380.4" y1="92.6" x2="380.4" y2="96.0" stroke="#222" stroke-width="1.2"/>
<line x1="381.97" y1="92.6" x2="381.97" y2="94.5" stroke="#555" stroke-width="0.85"/>
<line x1="383.54" y1="92.6" x2="383.54" y2="94.5" stroke="#555" stroke-width="0.85"/>
<line x1="385.11" y1="92.6" x2="385.11" y2="94.5" stroke="#555" stroke-width="0.85"/>
<line x1="386.68" y1="92.6" x2="386.68" y2="94.5" stroke="#555" stroke-width="0.85"/>
<line x1="388.25" y1="92.6" x2="388.25" y2="96.0" stroke="#222" stroke-width="1.2"/>
<line x1="389.82" y1="92.6" x2="389.82" y2="94.5" stroke="#555" stroke-width="0.85"/>
<line x1="391.39" y1="92.6" x2="391.39" y2="94.5" stroke="#555" stroke-width="0.85"/>
<line x1="392.96" y1="92.6" x2="392.96" y2="94.5" stroke="#555" stroke-width="0.85"/>
<line x1="394.53" y1="92.6" x2="394.53" y2="94.5" stroke="#555" stroke-width="0.85"/>
<line x1="396.1" y1="92.6" x2="396.1" y2="96.0" stroke="#222" stroke-width="1.2"/>
<line x1="397.67" y1="92.6" x2="397.67" y2="94.5" stroke="#555" stroke-width="0.85"/>
<line x1="399.24" y1="92.6" x2="399.24" y2="94.5" stroke="#555" stroke-width="0.85"/>
<line x1="356.8" y1="92.28" x2="358.5" y2="92.28" stroke="#555" stroke-width="0.85"/>
<line x1="356.8" y1="91.34" x2="358.5" y2="91.34" stroke="#555" stroke-width="0.85"/>
<line x1="356.8" y1="90.56" x2="358.5" y2="90.56" stroke="#555" stroke-width="0.85"/>
<line x1="356.8" y1="89.91" x2="358.5" y2="89.91" stroke="#555" stroke-width="0.85"/>
<line x1="356.8" y1="89.34" x2="358.5" y2="89.34" stroke="#555" stroke-width="0.85"/>
<line x1="356.8" y1="88.85" x2="358.5" y2="88.85" stroke="#555" stroke-width="0.85"/>
<line x1="355.3" y1="88.4" x2="358.5" y2="88.4" stroke="#111" stroke-width="1.4"/>
<line x1="356.8" y1="85.46" x2="358.5" y2="85.46" stroke="#555" stroke-width="0.85"/>
<line x1="356.8" y1="83.75" x2="358.5" y2="83.75" stroke="#555" stroke-width="0.85"/>
<line x1="356.8" y1="82.53" x2="358.5" y2="82.53" stroke="#555" stroke-width="0.85"/>
<line x1="356.8" y1="81.59" x2="358.5" y2="81.59" stroke="#555" stroke-width="0.85"/>
<line x1="356.8" y1="80.81" x2="358.5" y2="80.81" stroke="#555" stroke-width="0.85"/>
<line x1="356.8" y1="80.16" x2="358.5" y2="80.16" stroke="#555" stroke-width="0.85"/>
<line x1="356.8" y1="79.59" x2="358.5" y2="79.59" stroke="#555" stroke-width="0.85"/>
<line x1="356.8" y1="79.1" x2="358.5" y2="79.1" stroke="#555" stroke-width="0.85"/>
<line x1="355.3" y1="78.65" x2="358.5" y2="78.65" stroke="#111" stroke-width="1.4"/>
<line x1="356.8" y1="75.71" x2="358.5" y2="75.71" stroke="#555" stroke-width="0.85"/>
<line x1="356.8" y1="74.0" x2="358.5" y2="74.0" stroke="#555" stroke-width="0.85"/>
<line x1="356.8" y1="72.78" x2="358.5" y2="72.78" stroke="#555" stroke-width="0.85"/>
<line x1="356.8" y1="71.84" x2="358.5" y2="71.84" stroke="#555" stroke-width="0.85"/>
<line x1="356.8" y1="71.06" x2="358.5" y2="71.06" stroke="#555" stroke-width="0.85"/>
<line x1="356.8" y1="70.41" x2="358.5" y2="70.41" stroke="#555" stroke-width="0.85"/>
<line x1="356.8" y1="69.84" x2="358.5" y2="69.84" stroke="#555" stroke-width="0.85"/>
<line x1="356.8" y1="69.35" x2="358.5" y2="69.35" stroke="#555" stroke-width="0.85"/>
<line x1="355.3" y1="68.9" x2="358.5" y2="68.9" stroke="#111" stroke-width="1.4"/>
<line x1="356.8" y1="65.96" x2="358.5" y2="65.96" stroke="#555" stroke-width="0.85"/>
<line x1="356.8" y1="64.25" x2="358.5" y2="64.25" stroke="#555" stroke-width="0.85"/>
<line x1="356.8" y1="63.03" x2="358.5" y2="63.03" stroke="#555" stroke-width="0.85"/>
<line x1="356.8" y1="62.09" x2="358.5" y2="62.09" stroke="#555" stroke-width="0.85"/>
<line x1="356.8" y1="61.31" x2="358.5" y2="61.31" stroke="#555" stroke-width="0.85"/>
<line x1="356.8" y1="60.66" x2="358.5" y2="60.66" stroke="#555" stroke-width="0.85"/>
<line x1="356.8" y1="60.09" x2="358.5" y2="60.09" stroke="#555" stroke-width="0.85"/>
<line x1="356.8" y1="59.6" x2="358.5" y2="59.6" stroke="#555" stroke-width="0.85"/>
<line x1="355.3" y1="59.15" x2="358.5" y2="59.15" stroke="#111" stroke-width="1.4"/>
<line x1="356.8" y1="56.21" x2="358.5" y2="56.21" stroke="#555" stroke-width="0.85"/>
<rect x="357.20" y="103.00" width="42.20" height="40.40" fill="#fff" stroke="#8a8a8a" stroke-width="0.9"/>
<line x1="357.2" y1="103" x2="357.2" y2="143.4" stroke="#333" stroke-width="1"/>
<line x1="357.2" y1="143.4" x2="399.4" y2="143.4" stroke="#333" stroke-width="1"/>
<line x1="358.69" y1="143.4" x2="358.69" y2="145.3" stroke="#555" stroke-width="0.85"/>
<line x1="360.26" y1="143.4" x2="360.26" y2="145.3" stroke="#555" stroke-width="0.85"/>
<line x1="361.83" y1="143.4" x2="361.83" y2="145.3" stroke="#555" stroke-width="0.85"/>
<line x1="363.4" y1="143.4" x2="363.4" y2="146.8" stroke="#222" stroke-width="1.2"/>
<line x1="364.97" y1="143.4" x2="364.97" y2="145.3" stroke="#555" stroke-width="0.85"/>
<line x1="366.54" y1="143.4" x2="366.54" y2="145.3" stroke="#555" stroke-width="0.85"/>
<line x1="368.11" y1="143.4" x2="368.11" y2="145.3" stroke="#555" stroke-width="0.85"/>
<line x1="369.68" y1="143.4" x2="369.68" y2="145.3" stroke="#555" stroke-width="0.85"/>
<line x1="371.25" y1="143.4" x2="371.25" y2="146.8" stroke="#222" stroke-width="1.2"/>
<line x1="372.82" y1="143.4" x2="372.82" y2="145.3" stroke="#555" stroke-width="0.85"/>
<line x1="374.39" y1="143.4" x2="374.39" y2="145.3" stroke="#555" stroke-width="0.85"/>
<line x1="375.96" y1="143.4" x2="375.96" y2="145.3" stroke="#555" stroke-width="0.85"/>
<line x1="377.53" y1="143.4" x2="377.53" y2="145.3" stroke="#555" stroke-width="0.85"/>
<line x1="379.1" y1="143.4" x2="379.1" y2="146.8" stroke="#222" stroke-width="1.2"/>
<line x1="380.67" y1="143.4" x2="380.67" y2="145.3" stroke="#555" stroke-width="0.85"/>
<line x1="382.24" y1="143.4" x2="382.24" y2="145.3" stroke="#555" stroke-width="0.85"/>
<line x1="383.81" y1="143.4" x2="383.81" y2="145.3" stroke="#555" stroke-width="0.85"/>
<line x1="385.38" y1="143.4" x2="385.38" y2="145.3" stroke="#555" stroke-width="0.85"/>
<line x1="386.95" y1="143.4" x2="386.95" y2="146.8" stroke="#222" stroke-width="1.2"/>
<line x1="388.52" y1="143.4" x2="388.52" y2="145.3" stroke="#555" stroke-width="0.85"/>
<line x1="390.09" y1="143.4" x2="390.09" y2="145.3" stroke="#555" stroke-width="0.85"/>
<line x1="391.66" y1="143.4" x2="391.66" y2="145.3" stroke="#555" stroke-width="0.85"/>
<line x1="393.23" y1="143.4" x2="393.23" y2="145.3" stroke="#555" stroke-width="0.85"/>
<line x1="394.8" y1="143.4" x2="394.8" y2="146.8" stroke="#222" stroke-width="1.2"/>
<line x1="396.37" y1="143.4" x2="396.37" y2="145.3" stroke="#555" stroke-width="0.85"/>
<line x1="397.94" y1="143.4" x2="397.94" y2="145.3" stroke="#555" stroke-width="0.85"/>
<line x1="355.5" y1="143.08" x2="357.2" y2="143.08" stroke="#555" stroke-width="0.85"/>
<line x1="355.5" y1="142.14" x2="357.2" y2="142.14" stroke="#555" stroke-width="0.85"/>
<line x1="355.5" y1="141.36" x2="357.2" y2="141.36" stroke="#555" stroke-width="0.85"/>
<line x1="355.5" y1="140.71" x2="357.2" y2="140.71" stroke="#555" stroke-width="0.85"/>
<line x1="355.5" y1="140.14" x2="357.2" y2="140.14" stroke="#555" stroke-width="0.85"/>
<line x1="355.5" y1="139.65" x2="357.2" y2="139.65" stroke="#555" stroke-width="0.85"/>
<line x1="354.0" y1="139.2" x2="357.2" y2="139.2" stroke="#111" stroke-width="1.4"/>
<line x1="355.5" y1="136.26" x2="357.2" y2="136.26" stroke="#555" stroke-width="0.85"/>
<line x1="355.5" y1="134.55" x2="357.2" y2="134.55" stroke="#555" stroke-width="0.85"/>
<line x1="355.5" y1="133.33" x2="357.2" y2="133.33" stroke="#555" stroke-width="0.85"/>
<line x1="355.5" y1="132.39" x2="357.2" y2="132.39" stroke="#555" stroke-width="0.85"/>
<line x1="355.5" y1="131.61" x2="357.2" y2="131.61" stroke="#555" stroke-width="0.85"/>
<line x1="355.5" y1="130.96" x2="357.2" y2="130.96" stroke="#555" stroke-width="0.85"/>
<line x1="355.5" y1="130.39" x2="357.2" y2="130.39" stroke="#555" stroke-width="0.85"/>
<line x1="355.5" y1="129.9" x2="357.2" y2="129.9" stroke="#555" stroke-width="0.85"/>
<line x1="354.0" y1="129.45" x2="357.2" y2="129.45" stroke="#111" stroke-width="1.4"/>
<line x1="355.5" y1="126.51" x2="357.2" y2="126.51" stroke="#555" stroke-width="0.85"/>
<line x1="355.5" y1="124.8" x2="357.2" y2="124.8" stroke="#555" stroke-width="0.85"/>
<line x1="355.5" y1="123.58" x2="357.2" y2="123.58" stroke="#555" stroke-width="0.85"/>
<line x1="355.5" y1="122.64" x2="357.2" y2="122.64" stroke="#555" stroke-width="0.85"/>
<line x1="355.5" y1="121.86" x2="357.2" y2="121.86" stroke="#555" stroke-width="0.85"/>
<line x1="355.5" y1="121.21" x2="357.2" y2="121.21" stroke="#555" stroke-width="0.85"/>
<line x1="355.5" y1="120.64" x2="357.2" y2="120.64" stroke="#555" stroke-width="0.85"/>
<line x1="355.5" y1="120.15" x2="357.2" y2="120.15" stroke="#555" stroke-width="0.85"/>
<line x1="354.0" y1="119.7" x2="357.2" y2="119.7" stroke="#111" stroke-width="1.4"/>
<line x1="355.5" y1="116.76" x2="357.2" y2="116.76" stroke="#555" stroke-width="0.85"/>
<line x1="355.5" y1="115.05" x2="357.2" y2="115.05" stroke="#555" stroke-width="0.85"/>
<line x1="355.5" y1="113.83" x2="357.2" y2="113.83" stroke="#555" stroke-width="0.85"/>
<line x1="355.5" y1="112.89" x2="357.2" y2="112.89" stroke="#555" stroke-width="0.85"/>
<line x1="355.5" y1="112.11" x2="357.2" y2="112.11" stroke="#555" stroke-width="0.85"/>
<line x1="355.5" y1="111.46" x2="357.2" y2="111.46" stroke="#555" stroke-width="0.85"/>
<line x1="355.5" y1="110.89" x2="357.2" y2="110.89" stroke="#555" stroke-width="0.85"/>
<line x1="355.5" y1="110.4" x2="357.2" y2="110.4" stroke="#555" stroke-width="0.85"/>
<line x1="354.0" y1="109.95" x2="357.2" y2="109.95" stroke="#111" stroke-width="1.4"/>
<line x1="355.5" y1="107.01" x2="357.2" y2="107.01" stroke="#555" stroke-width="0.85"/>
<line x1="355.5" y1="105.3" x2="357.2" y2="105.3" stroke="#555" stroke-width="0.85"/>
<line x1="355.5" y1="104.08" x2="357.2" y2="104.08" stroke="#555" stroke-width="0.85"/>
<rect x="357.20" y="151.10" width="42.50" height="39.90" fill="#fff" stroke="#8a8a8a" stroke-width="0.9"/>
<line x1="357.2" y1="151.1" x2="357.2" y2="191" stroke="#333" stroke-width="1"/>
<line x1="357.2" y1="191" x2="399.7" y2="191" stroke="#333" stroke-width="1"/>
<line x1="358.69" y1="191" x2="358.69" y2="192.9" stroke="#555" stroke-width="0.85"/>
<line x1="360.26" y1="191" x2="360.26" y2="192.9" stroke="#555" stroke-width="0.85"/>
<line x1="361.83" y1="191" x2="361.83" y2="192.9" stroke="#555" stroke-width="0.85"/>
<line x1="363.4" y1="191" x2="363.4" y2="194.4" stroke="#222" stroke-width="1.2"/>
<line x1="364.97" y1="191" x2="364.97" y2="192.9" stroke="#555" stroke-width="0.85"/>
<line x1="366.54" y1="191" x2="366.54" y2="192.9" stroke="#555" stroke-width="0.85"/>
<line x1="368.11" y1="191" x2="368.11" y2="192.9" stroke="#555" stroke-width="0.85"/>
<line x1="369.68" y1="191" x2="369.68" y2="192.9" stroke="#555" stroke-width="0.85"/>
<line x1="371.25" y1="191" x2="371.25" y2="194.4" stroke="#222" stroke-width="1.2"/>
<line x1="372.82" y1="191" x2="372.82" y2="192.9" stroke="#555" stroke-width="0.85"/>
<line x1="374.39" y1="191" x2="374.39" y2="192.9" stroke="#555" stroke-width="0.85"/>
<line x1="375.96" y1="191" x2="375.96" y2="192.9" stroke="#555" stroke-width="0.85"/>
<line x1="377.53" y1="191" x2="377.53" y2="192.9" stroke="#555" stroke-width="0.85"/>
<line x1="379.1" y1="191" x2="379.1" y2="194.4" stroke="#222" stroke-width="1.2"/>
<line x1="380.67" y1="191" x2="380.67" y2="192.9" stroke="#555" stroke-width="0.85"/>
<line x1="382.24" y1="191" x2="382.24" y2="192.9" stroke="#555" stroke-width="0.85"/>
<line x1="383.81" y1="191" x2="383.81" y2="192.9" stroke="#555" stroke-width="0.85"/>
<line x1="385.38" y1="191" x2="385.38" y2="192.9" stroke="#555" stroke-width="0.85"/>
<line x1="386.95" y1="191" x2="386.95" y2="194.4" stroke="#222" stroke-width="1.2"/>
<line x1="388.52" y1="191" x2="388.52" y2="192.9" stroke="#555" stroke-width="0.85"/>
<line x1="390.09" y1="191" x2="390.09" y2="192.9" stroke="#555" stroke-width="0.85"/>
<line x1="391.66" y1="191" x2="391.66" y2="192.9" stroke="#555" stroke-width="0.85"/>
<line x1="393.23" y1="191" x2="393.23" y2="192.9" stroke="#555" stroke-width="0.85"/>
<line x1="394.8" y1="191" x2="394.8" y2="194.4" stroke="#222" stroke-width="1.2"/>
<line x1="396.37" y1="191" x2="396.37" y2="192.9" stroke="#555" stroke-width="0.85"/>
<line x1="397.94" y1="191" x2="397.94" y2="192.9" stroke="#555" stroke-width="0.85"/>
<line x1="355.5" y1="190.68" x2="357.2" y2="190.68" stroke="#555" stroke-width="0.85"/>
<line x1="355.5" y1="189.74" x2="357.2" y2="189.74" stroke="#555" stroke-width="0.85"/>
<line x1="355.5" y1="188.96" x2="357.2" y2="188.96" stroke="#555" stroke-width="0.85"/>
<line x1="355.5" y1="188.31" x2="357.2" y2="188.31" stroke="#555" stroke-width="0.85"/>
<line x1="355.5" y1="187.74" x2="357.2" y2="187.74" stroke="#555" stroke-width="0.85"/>
<line x1="355.5" y1="187.25" x2="357.2" y2="187.25" stroke="#555" stroke-width="0.85"/>
<line x1="354.0" y1="186.8" x2="357.2" y2="186.8" stroke="#111" stroke-width="1.4"/>
<line x1="355.5" y1="183.86" x2="357.2" y2="183.86" stroke="#555" stroke-width="0.85"/>
<line x1="355.5" y1="182.15" x2="357.2" y2="182.15" stroke="#555" stroke-width="0.85"/>
<line x1="355.5" y1="180.93" x2="357.2" y2="180.93" stroke="#555" stroke-width="0.85"/>
<line x1="355.5" y1="179.99" x2="357.2" y2="179.99" stroke="#555" stroke-width="0.85"/>
<line x1="355.5" y1="179.21" x2="357.2" y2="179.21" stroke="#555" stroke-width="0.85"/>
<line x1="355.5" y1="178.56" x2="357.2" y2="178.56" stroke="#555" stroke-width="0.85"/>
<line x1="355.5" y1="177.99" x2="357.2" y2="177.99" stroke="#555" stroke-width="0.85"/>
<line x1="355.5" y1="177.5" x2="357.2" y2="177.5" stroke="#555" stroke-width="0.85"/>
<line x1="354.0" y1="177.05" x2="357.2" y2="177.05" stroke="#111" stroke-width="1.4"/>
<line x1="355.5" y1="174.11" x2="357.2" y2="174.11" stroke="#555" stroke-width="0.85"/>
<line x1="355.5" y1="172.4" x2="357.2" y2="172.4" stroke="#555" stroke-width="0.85"/>
<line x1="355.5" y1="171.18" x2="357.2" y2="171.18" stroke="#555" stroke-width="0.85"/>
<line x1="355.5" y1="170.24" x2="357.2" y2="170.24" stroke="#555" stroke-width="0.85"/>
<line x1="355.5" y1="169.46" x2="357.2" y2="169.46" stroke="#555" stroke-width="0.85"/>
<line x1="355.5" y1="168.81" x2="357.2" y2="168.81" stroke="#555" stroke-width="0.85"/>
<line x1="355.5" y1="168.24" x2="357.2" y2="168.24" stroke="#555" stroke-width="0.85"/>
<line x1="355.5" y1="167.75" x2="357.2" y2="167.75" stroke="#555" stroke-width="0.85"/>
<line x1="354.0" y1="167.3" x2="357.2" y2="167.3" stroke="#111" stroke-width="1.4"/>
<line x1="355.5" y1="164.36" x2="357.2" y2="164.36" stroke="#555" stroke-width="0.85"/>
<line x1="355.5" y1="162.65" x2="357.2" y2="162.65" stroke="#555" stroke-width="0.85"/>
<line x1="355.5" y1="161.43" x2="357.2" y2="161.43" stroke="#555" stroke-width="0.85"/>
<line x1="355.5" y1="160.49" x2="357.2" y2="160.49" stroke="#555" stroke-width="0.85"/>
<line x1="355.5" y1="159.71" x2="357.2" y2="159.71" stroke="#555" stroke-width="0.85"/>
<line x1="355.5" y1="159.06" x2="357.2" y2="159.06" stroke="#555" stroke-width="0.85"/>
<line x1="355.5" y1="158.49" x2="357.2" y2="158.49" stroke="#555" stroke-width="0.85"/>
<line x1="355.5" y1="158.0" x2="357.2" y2="158.0" stroke="#555" stroke-width="0.85"/>
<line x1="354.0" y1="157.55" x2="357.2" y2="157.55" stroke="#111" stroke-width="1.4"/>
<line x1="355.5" y1="154.61" x2="357.2" y2="154.61" stroke="#555" stroke-width="0.85"/>
<line x1="355.5" y1="152.9" x2="357.2" y2="152.9" stroke="#555" stroke-width="0.85"/>
<rect x="420.30" y="3.50" width="42.60" height="40.90" fill="#fff" stroke="#8a8a8a" stroke-width="0.9"/>
<line x1="420.3" y1="3.5" x2="420.3" y2="44.4" stroke="#333" stroke-width="1"/>
<line x1="420.3" y1="44.4" x2="462.9" y2="44.4" stroke="#333" stroke-width="1"/>
<line x1="422.08" y1="44.4" x2="422.08" y2="46.199999999999996" stroke="#555" stroke-width="0.85"/>
<line x1="423.11" y1="44.4" x2="423.11" y2="46.199999999999996" stroke="#555" stroke-width="0.85"/>
<line x1="423.95" y1="44.4" x2="423.95" y2="46.199999999999996" stroke="#555" stroke-width="0.85"/>
<line x1="424.66" y1="44.4" x2="424.66" y2="46.199999999999996" stroke="#555" stroke-width="0.85"/>
<line x1="425.27" y1="44.4" x2="425.27" y2="46.199999999999996" stroke="#555" stroke-width="0.85"/>
<line x1="425.81" y1="44.4" x2="425.81" y2="46.199999999999996" stroke="#555" stroke-width="0.85"/>
<line x1="426.3" y1="44.4" x2="426.3" y2="47.6" stroke="#111" stroke-width="1.4"/>
<line x1="429.49" y1="44.4" x2="429.49" y2="46.199999999999996" stroke="#555" stroke-width="0.85"/>
<line x1="431.36" y1="44.4" x2="431.36" y2="46.199999999999996" stroke="#555" stroke-width="0.85"/>
<line x1="432.68" y1="44.4" x2="432.68" y2="46.199999999999996" stroke="#555" stroke-width="0.85"/>
<line x1="433.71" y1="44.4" x2="433.71" y2="46.199999999999996" stroke="#555" stroke-width="0.85"/>
<line x1="434.55" y1="44.4" x2="434.55" y2="46.199999999999996" stroke="#555" stroke-width="0.85"/>
<line x1="435.26" y1="44.4" x2="435.26" y2="46.199999999999996" stroke="#555" stroke-width="0.85"/>
<line x1="435.87" y1="44.4" x2="435.87" y2="46.199999999999996" stroke="#555" stroke-width="0.85"/>
<line x1="436.41" y1="44.4" x2="436.41" y2="46.199999999999996" stroke="#555" stroke-width="0.85"/>
<line x1="436.9" y1="44.4" x2="436.9" y2="47.6" stroke="#111" stroke-width="1.4"/>
<line x1="440.09" y1="44.4" x2="440.09" y2="46.199999999999996" stroke="#555" stroke-width="0.85"/>
<line x1="441.96" y1="44.4" x2="441.96" y2="46.199999999999996" stroke="#555" stroke-width="0.85"/>
<line x1="443.28" y1="44.4" x2="443.28" y2="46.199999999999996" stroke="#555" stroke-width="0.85"/>
<line x1="444.31" y1="44.4" x2="444.31" y2="46.199999999999996" stroke="#555" stroke-width="0.85"/>
<line x1="445.15" y1="44.4" x2="445.15" y2="46.199999999999996" stroke="#555" stroke-width="0.85"/>
<line x1="445.86" y1="44.4" x2="445.86" y2="46.199999999999996" stroke="#555" stroke-width="0.85"/>
<line x1="446.47" y1="44.4" x2="446.47" y2="46.199999999999996" stroke="#555" stroke-width="0.85"/>
<line x1="447.01" y1="44.4" x2="447.01" y2="46.199999999999996" stroke="#555" stroke-width="0.85"/>
<line x1="447.5" y1="44.4" x2="447.5" y2="47.6" stroke="#111" stroke-width="1.4"/>
<line x1="450.69" y1="44.4" x2="450.69" y2="46.199999999999996" stroke="#555" stroke-width="0.85"/>
<line x1="452.56" y1="44.4" x2="452.56" y2="46.199999999999996" stroke="#555" stroke-width="0.85"/>
<line x1="453.88" y1="44.4" x2="453.88" y2="46.199999999999996" stroke="#555" stroke-width="0.85"/>
<line x1="454.91" y1="44.4" x2="454.91" y2="46.199999999999996" stroke="#555" stroke-width="0.85"/>
<line x1="455.75" y1="44.4" x2="455.75" y2="46.199999999999996" stroke="#555" stroke-width="0.85"/>
<line x1="456.46" y1="44.4" x2="456.46" y2="46.199999999999996" stroke="#555" stroke-width="0.85"/>
<line x1="457.07" y1="44.4" x2="457.07" y2="46.199999999999996" stroke="#555" stroke-width="0.85"/>
<line x1="457.61" y1="44.4" x2="457.61" y2="46.199999999999996" stroke="#555" stroke-width="0.85"/>
<line x1="458.1" y1="44.4" x2="458.1" y2="47.6" stroke="#111" stroke-width="1.4"/>
<line x1="461.29" y1="44.4" x2="461.29" y2="46.199999999999996" stroke="#555" stroke-width="0.85"/>
<rect x="421.30" y="54.40" width="42.70" height="43.80" fill="#fff" stroke="#8a8a8a" stroke-width="0.9"/>
<line x1="421.3" y1="54.4" x2="421.3" y2="98.2" stroke="#333" stroke-width="1"/>
<line x1="421.3" y1="98.2" x2="464" y2="98.2" stroke="#333" stroke-width="1"/>
<line x1="423.08" y1="98.2" x2="423.08" y2="100.0" stroke="#555" stroke-width="0.85"/>
<line x1="424.11" y1="98.2" x2="424.11" y2="100.0" stroke="#555" stroke-width="0.85"/>
<line x1="424.95" y1="98.2" x2="424.95" y2="100.0" stroke="#555" stroke-width="0.85"/>
<line x1="425.66" y1="98.2" x2="425.66" y2="100.0" stroke="#555" stroke-width="0.85"/>
<line x1="426.27" y1="98.2" x2="426.27" y2="100.0" stroke="#555" stroke-width="0.85"/>
<line x1="426.81" y1="98.2" x2="426.81" y2="100.0" stroke="#555" stroke-width="0.85"/>
<line x1="427.3" y1="98.2" x2="427.3" y2="101.4" stroke="#111" stroke-width="1.4"/>
<line x1="430.49" y1="98.2" x2="430.49" y2="100.0" stroke="#555" stroke-width="0.85"/>
<line x1="432.36" y1="98.2" x2="432.36" y2="100.0" stroke="#555" stroke-width="0.85"/>
<line x1="433.68" y1="98.2" x2="433.68" y2="100.0" stroke="#555" stroke-width="0.85"/>
<line x1="434.71" y1="98.2" x2="434.71" y2="100.0" stroke="#555" stroke-width="0.85"/>
<line x1="435.55" y1="98.2" x2="435.55" y2="100.0" stroke="#555" stroke-width="0.85"/>
<line x1="436.26" y1="98.2" x2="436.26" y2="100.0" stroke="#555" stroke-width="0.85"/>
<line x1="436.87" y1="98.2" x2="436.87" y2="100.0" stroke="#555" stroke-width="0.85"/>
<line x1="437.41" y1="98.2" x2="437.41" y2="100.0" stroke="#555" stroke-width="0.85"/>
<line x1="437.9" y1="98.2" x2="437.9" y2="101.4" stroke="#111" stroke-width="1.4"/>
<line x1="441.09" y1="98.2" x2="441.09" y2="100.0" stroke="#555" stroke-width="0.85"/>
<line x1="442.96" y1="98.2" x2="442.96" y2="100.0" stroke="#555" stroke-width="0.85"/>
<line x1="444.28" y1="98.2" x2="444.28" y2="100.0" stroke="#555" stroke-width="0.85"/>
<line x1="445.31" y1="98.2" x2="445.31" y2="100.0" stroke="#555" stroke-width="0.85"/>
<line x1="446.15" y1="98.2" x2="446.15" y2="100.0" stroke="#555" stroke-width="0.85"/>
<line x1="446.86" y1="98.2" x2="446.86" y2="100.0" stroke="#555" stroke-width="0.85"/>
<line x1="447.47" y1="98.2" x2="447.47" y2="100.0" stroke="#555" stroke-width="0.85"/>
<line x1="448.01" y1="98.2" x2="448.01" y2="100.0" stroke="#555" stroke-width="0.85"/>
<line x1="448.5" y1="98.2" x2="448.5" y2="101.4" stroke="#111" stroke-width="1.4"/>
<line x1="451.69" y1="98.2" x2="451.69" y2="100.0" stroke="#555" stroke-width="0.85"/>
<line x1="453.56" y1="98.2" x2="453.56" y2="100.0" stroke="#555" stroke-width="0.85"/>
<line x1="454.88" y1="98.2" x2="454.88" y2="100.0" stroke="#555" stroke-width="0.85"/>
<line x1="455.91" y1="98.2" x2="455.91" y2="100.0" stroke="#555" stroke-width="0.85"/>
<line x1="456.75" y1="98.2" x2="456.75" y2="100.0" stroke="#555" stroke-width="0.85"/>
<line x1="457.46" y1="98.2" x2="457.46" y2="100.0" stroke="#555" stroke-width="0.85"/>
<line x1="458.07" y1="98.2" x2="458.07" y2="100.0" stroke="#555" stroke-width="0.85"/>
<line x1="458.61" y1="98.2" x2="458.61" y2="100.0" stroke="#555" stroke-width="0.85"/>
<line x1="459.1" y1="98.2" x2="459.1" y2="101.4" stroke="#111" stroke-width="1.4"/>
<line x1="462.29" y1="98.2" x2="462.29" y2="100.0" stroke="#555" stroke-width="0.85"/>
<rect x="421.00" y="105.60" width="43.00" height="41.20" fill="#fff" stroke="#8a8a8a" stroke-width="0.9"/>
<line x1="421" y1="105.6" x2="421" y2="146.8" stroke="#333" stroke-width="1"/>
<line x1="421" y1="146.8" x2="464" y2="146.8" stroke="#333" stroke-width="1"/>
<line x1="422.78" y1="146.8" x2="422.78" y2="148.60000000000002" stroke="#555" stroke-width="0.85"/>
<line x1="423.81" y1="146.8" x2="423.81" y2="148.60000000000002" stroke="#555" stroke-width="0.85"/>
<line x1="424.65" y1="146.8" x2="424.65" y2="148.60000000000002" stroke="#555" stroke-width="0.85"/>
<line x1="425.36" y1="146.8" x2="425.36" y2="148.60000000000002" stroke="#555" stroke-width="0.85"/>
<line x1="425.97" y1="146.8" x2="425.97" y2="148.60000000000002" stroke="#555" stroke-width="0.85"/>
<line x1="426.51" y1="146.8" x2="426.51" y2="148.60000000000002" stroke="#555" stroke-width="0.85"/>
<line x1="427.0" y1="146.8" x2="427.0" y2="150.0" stroke="#111" stroke-width="1.4"/>
<line x1="430.19" y1="146.8" x2="430.19" y2="148.60000000000002" stroke="#555" stroke-width="0.85"/>
<line x1="432.06" y1="146.8" x2="432.06" y2="148.60000000000002" stroke="#555" stroke-width="0.85"/>
<line x1="433.38" y1="146.8" x2="433.38" y2="148.60000000000002" stroke="#555" stroke-width="0.85"/>
<line x1="434.41" y1="146.8" x2="434.41" y2="148.60000000000002" stroke="#555" stroke-width="0.85"/>
<line x1="435.25" y1="146.8" x2="435.25" y2="148.60000000000002" stroke="#555" stroke-width="0.85"/>
<line x1="435.96" y1="146.8" x2="435.96" y2="148.60000000000002" stroke="#555" stroke-width="0.85"/>
<line x1="436.57" y1="146.8" x2="436.57" y2="148.60000000000002" stroke="#555" stroke-width="0.85"/>
<line x1="437.11" y1="146.8" x2="437.11" y2="148.60000000000002" stroke="#555" stroke-width="0.85"/>
<line x1="437.6" y1="146.8" x2="437.6" y2="150.0" stroke="#111" stroke-width="1.4"/>
<line x1="440.79" y1="146.8" x2="440.79" y2="148.60000000000002" stroke="#555" stroke-width="0.85"/>
<line x1="442.66" y1="146.8" x2="442.66" y2="148.60000000000002" stroke="#555" stroke-width="0.85"/>
<line x1="443.98" y1="146.8" x2="443.98" y2="148.60000000000002" stroke="#555" stroke-width="0.85"/>
<line x1="445.01" y1="146.8" x2="445.01" y2="148.60000000000002" stroke="#555" stroke-width="0.85"/>
<line x1="445.85" y1="146.8" x2="445.85" y2="148.60000000000002" stroke="#555" stroke-width="0.85"/>
<line x1="446.56" y1="146.8" x2="446.56" y2="148.60000000000002" stroke="#555" stroke-width="0.85"/>
<line x1="447.17" y1="146.8" x2="447.17" y2="148.60000000000002" stroke="#555" stroke-width="0.85"/>
<line x1="447.71" y1="146.8" x2="447.71" y2="148.60000000000002" stroke="#555" stroke-width="0.85"/>
<line x1="448.2" y1="146.8" x2="448.2" y2="150.0" stroke="#111" stroke-width="1.4"/>
<line x1="451.39" y1="146.8" x2="451.39" y2="148.60000000000002" stroke="#555" stroke-width="0.85"/>
<line x1="453.26" y1="146.8" x2="453.26" y2="148.60000000000002" stroke="#555" stroke-width="0.85"/>
<line x1="454.58" y1="146.8" x2="454.58" y2="148.60000000000002" stroke="#555" stroke-width="0.85"/>
<line x1="455.61" y1="146.8" x2="455.61" y2="148.60000000000002" stroke="#555" stroke-width="0.85"/>
<line x1="456.45" y1="146.8" x2="456.45" y2="148.60000000000002" stroke="#555" stroke-width="0.85"/>
<line x1="457.16" y1="146.8" x2="457.16" y2="148.60000000000002" stroke="#555" stroke-width="0.85"/>
<line x1="457.77" y1="146.8" x2="457.77" y2="148.60000000000002" stroke="#555" stroke-width="0.85"/>
<line x1="458.31" y1="146.8" x2="458.31" y2="148.60000000000002" stroke="#555" stroke-width="0.85"/>
<line x1="458.8" y1="146.8" x2="458.8" y2="150.0" stroke="#111" stroke-width="1.4"/>
<line x1="461.99" y1="146.8" x2="461.99" y2="148.60000000000002" stroke="#555" stroke-width="0.85"/>
<rect x="421.60" y="152.30" width="42.40" height="41.10" fill="#fff" stroke="#8a8a8a" stroke-width="0.9"/>
<line x1="421.6" y1="152.3" x2="421.6" y2="193.4" stroke="#333" stroke-width="1"/>
<line x1="421.6" y1="193.4" x2="464" y2="193.4" stroke="#333" stroke-width="1"/>
<line x1="423.38" y1="193.4" x2="423.38" y2="195.20000000000002" stroke="#555" stroke-width="0.85"/>
<line x1="424.41" y1="193.4" x2="424.41" y2="195.20000000000002" stroke="#555" stroke-width="0.85"/>
<line x1="425.25" y1="193.4" x2="425.25" y2="195.20000000000002" stroke="#555" stroke-width="0.85"/>
<line x1="425.96" y1="193.4" x2="425.96" y2="195.20000000000002" stroke="#555" stroke-width="0.85"/>
<line x1="426.57" y1="193.4" x2="426.57" y2="195.20000000000002" stroke="#555" stroke-width="0.85"/>
<line x1="427.11" y1="193.4" x2="427.11" y2="195.20000000000002" stroke="#555" stroke-width="0.85"/>
<line x1="427.6" y1="193.4" x2="427.6" y2="196.6" stroke="#111" stroke-width="1.4"/>
<line x1="430.79" y1="193.4" x2="430.79" y2="195.20000000000002" stroke="#555" stroke-width="0.85"/>
<line x1="432.66" y1="193.4" x2="432.66" y2="195.20000000000002" stroke="#555" stroke-width="0.85"/>
<line x1="433.98" y1="193.4" x2="433.98" y2="195.20000000000002" stroke="#555" stroke-width="0.85"/>
<line x1="435.01" y1="193.4" x2="435.01" y2="195.20000000000002" stroke="#555" stroke-width="0.85"/>
<line x1="435.85" y1="193.4" x2="435.85" y2="195.20000000000002" stroke="#555" stroke-width="0.85"/>
<line x1="436.56" y1="193.4" x2="436.56" y2="195.20000000000002" stroke="#555" stroke-width="0.85"/>
<line x1="437.17" y1="193.4" x2="437.17" y2="195.20000000000002" stroke="#555" stroke-width="0.85"/>
<line x1="437.71" y1="193.4" x2="437.71" y2="195.20000000000002" stroke="#555" stroke-width="0.85"/>
<line x1="438.2" y1="193.4" x2="438.2" y2="196.6" stroke="#111" stroke-width="1.4"/>
<line x1="441.39" y1="193.4" x2="441.39" y2="195.20000000000002" stroke="#555" stroke-width="0.85"/>
<line x1="443.26" y1="193.4" x2="443.26" y2="195.20000000000002" stroke="#555" stroke-width="0.85"/>
<line x1="444.58" y1="193.4" x2="444.58" y2="195.20000000000002" stroke="#555" stroke-width="0.85"/>
<line x1="445.61" y1="193.4" x2="445.61" y2="195.20000000000002" stroke="#555" stroke-width="0.85"/>
<line x1="446.45" y1="193.4" x2="446.45" y2="195.20000000000002" stroke="#555" stroke-width="0.85"/>
<line x1="447.16" y1="193.4" x2="447.16" y2="195.20000000000002" stroke="#555" stroke-width="0.85"/>
<line x1="447.77" y1="193.4" x2="447.77" y2="195.20000000000002" stroke="#555" stroke-width="0.85"/>
<line x1="448.31" y1="193.4" x2="448.31" y2="195.20000000000002" stroke="#555" stroke-width="0.85"/>
<line x1="448.8" y1="193.4" x2="448.8" y2="196.6" stroke="#111" stroke-width="1.4"/>
<line x1="451.99" y1="193.4" x2="451.99" y2="195.20000000000002" stroke="#555" stroke-width="0.85"/>
<line x1="453.86" y1="193.4" x2="453.86" y2="195.20000000000002" stroke="#555" stroke-width="0.85"/>
<line x1="455.18" y1="193.4" x2="455.18" y2="195.20000000000002" stroke="#555" stroke-width="0.85"/>
<line x1="456.21" y1="193.4" x2="456.21" y2="195.20000000000002" stroke="#555" stroke-width="0.85"/>
<line x1="457.05" y1="193.4" x2="457.05" y2="195.20000000000002" stroke="#555" stroke-width="0.85"/>
<line x1="457.76" y1="193.4" x2="457.76" y2="195.20000000000002" stroke="#555" stroke-width="0.85"/>
<line x1="458.37" y1="193.4" x2="458.37" y2="195.20000000000002" stroke="#555" stroke-width="0.85"/>
<line x1="458.91" y1="193.4" x2="458.91" y2="195.20000000000002" stroke="#555" stroke-width="0.85"/>
<line x1="459.4" y1="193.4" x2="459.4" y2="196.6" stroke="#111" stroke-width="1.4"/>
<line x1="462.59" y1="193.4" x2="462.59" y2="195.20000000000002" stroke="#555" stroke-width="0.85"/>
<path d="M302.9,12.9 C305.6,12.9 307.0,15.2 306.7,18.2 C306.3,21.8 304.4,25.0 303.0,27.6 C301.5,25.2 300.0,21.6 300.1,17.5 C300.2,14.6 301.0,12.9 302.9,12.9 Z" fill="#9c9c9c" stroke="#555" stroke-width="0.8"/>
<path d="M300.4,20.5 C300.0,17 300.4,13.3 302.9,13.2 C304.2,13.2 305.2,14.2 305.4,15.5" fill="none" stroke="#000" stroke-width="1.5"/>
<ellipse cx="303.0" cy="17.0" rx="1.2" ry="2.0" fill="#555" stroke="#222" stroke-width="0.8"/>
<ellipse cx="302.6" cy="24.0" rx="1.0" ry="2.2" fill="#777"/>
<ellipse cx="304.4" cy="71.2" rx="2.4" ry="3.4" fill="#a0a0a0"/>
<g transform="translate(303.9 76.0) rotate(0)"><ellipse rx="3.1999999999999997" ry="4.4" fill="#d4d4d4"/><ellipse rx="2.3" ry="3.5" fill="#222" stroke="#111" stroke-width="1.0"/><ellipse rx="0.92" ry="1.57" fill="#666"/></g>
<g transform="translate(303.6 117.2) rotate(5)"><ellipse rx="3.3" ry="4.8" fill="#d4d4d4"/><ellipse rx="2.4" ry="3.9" fill="#444" stroke="#111" stroke-width="1.0"/><ellipse rx="0.96" ry="1.75" fill="#888"/></g>
<circle cx="303.4" cy="125.6" r="2.3" fill="#fff" stroke="#000" stroke-width="1.6"/>
<ellipse cx="307.0" cy="170.0" rx="3.8" ry="2.2" transform="rotate(-25 307 170)" fill="#aaa"/>
<path d="M303.8,171.5 L302.6,176.7 L305.2,173" fill="#666" stroke="#333" stroke-width="0.8"/>
<g transform="translate(304.2 170.8) rotate(-20)"><ellipse rx="3.6" ry="3.0" fill="#d4d4d4"/><ellipse rx="2.7" ry="2.1" fill="#333" stroke="#111" stroke-width="1.0"/><ellipse rx="1.08" ry="0.95" fill="#999"/></g>
<rect x="362.10" y="14.10" width="12.30" height="12.50" fill="none" stroke="#4a4a4a" stroke-width="1.0"/>
<g transform="translate(368.1 19.9) rotate(40)"><ellipse rx="3.3" ry="4.4" fill="#d4d4d4"/><ellipse rx="2.4" ry="3.5" fill="#333" stroke="#111" stroke-width="1.0"/><ellipse rx="0.96" ry="1.57" fill="#aaa"/></g>
<rect x="362.10" y="64.10" width="12.30" height="11.80" fill="none" stroke="#4a4a4a" stroke-width="1.0"/>
<rect x="364.30" y="75.90" width="5.90" height="12.50" fill="none" stroke="#4a4a4a" stroke-width="1.0"/>
<g transform="translate(368.7 71.8) rotate(12)"><ellipse rx="3.3" ry="4.9" fill="#d4d4d4"/><ellipse rx="2.4" ry="4.0" fill="#222" stroke="#111" stroke-width="1.0"/><ellipse rx="0.96" ry="1.80" fill="#999"/></g>
<path d="M369.8,78.2 C368.6,77.6 367.0,78.6 367.2,80.2 C367.4,81.6 368.6,82.2 369.6,81.6" fill="none" stroke="#666" stroke-width="0.8"/>
<rect x="361.20" y="114.40" width="12.70" height="12.20" fill="none" stroke="#4a4a4a" stroke-width="1.0"/>
<g transform="translate(367.7 120.8) rotate(18)"><ellipse rx="3.6" ry="5.0" fill="#d4d4d4"/><ellipse rx="2.7" ry="4.1" fill="#222" stroke="#111" stroke-width="1.0"/><ellipse rx="1.08" ry="1.84" fill="#999"/></g>
<rect x="361.30" y="160.40" width="12.30" height="11.50" fill="none" stroke="#4a4a4a" stroke-width="1.0"/>
<rect x="363.30" y="172.40" width="18.30" height="12.00" fill="none" stroke="#4a4a4a" stroke-width="1.0"/>
<path d="M366.5,176 C366,180 367,183.5 369,183.6 C371.5,183.5 373.8,181.5 374.2,179 C373.5,177 371,176.5 370,176 Z" fill="#aaa" stroke="#444" stroke-width="0.8"/>
<path d="M366.6,177 C366.2,172 366.8,166 368.6,165.6 C370.4,166 370.6,172 370.2,177 Z" fill="#666" stroke="#111" stroke-width="0.9"/>
<ellipse cx="368.4" cy="171.5" rx="0.8" ry="3" fill="#aaa"/>
<line x1="369.4" y1="169" x2="369.4" y2="184.4" stroke="#111" stroke-width="0.9"/>
<path d="M436.5,44.4 L438.5,43.4 L440.5,41 L442,36.5 L443.2,29 L444.3,18 L445.1,7 L445.6,3.5 L446.2,9 L446.9,21 L447.6,31 L448.6,38.5 L450.2,42.6 L452.5,44.4 Z" fill="#707070" stroke="#000" stroke-width="0.95"/>
<line x1="445.6" y1="3.5" x2="445.6" y2="44.4" stroke="#111" stroke-width="0.8"/>
<path d="M430.6,98.2 L431.1,96 L431.4,91.3 L432.2,89 L433.3,90.2 L434.4,88.5 L436.1,87.4 L437.2,84.1 L438.3,80.8 L439.4,78.5 L440.5,74.1 L441.6,68.6 L442.7,63 L443.6,57.5 L444.4,54.6 L445.5,58.6 L446.6,68.6 L447.1,79.7 L448.2,88.5 L449.3,94 L451.5,96.2 L453.8,96.8 L456,98.2 Z" fill="#707070" stroke="#000" stroke-width="0.95"/>
<path d="M437,146.8 L439,145.2 L440.5,142 L441.5,137 L442.5,130 L443.5,124 L444.5,116 L445.3,108 L445.8,105.6 L446.3,112 L447,125 L448,136 L449.5,143 L452,146.8 Z" fill="#707070" stroke="#000" stroke-width="0.95"/>
<line x1="445.8" y1="105.6" x2="445.8" y2="146.8" stroke="#111" stroke-width="0.8"/>
<path d="M431.4,193.4 L431.6,192.4 L431.9,183.9 L432.2,180.8 L433,179.2 L434,176.5 L435.1,174.4 L435.6,171.2 L436.7,167 L437.7,160.6 L439,152.5 L439.8,158.5 L440.9,167 L442,172.3 L443.6,176.5 L444.1,180.6 L444.6,178.6 L445.7,181.8 L446.7,182.9 L447.8,187.1 L448.9,189.8 L450.5,191.9 L452.6,193 L454.5,193.4 Z" fill="#707070" stroke="#000" stroke-width="0.95"/>
<text x="422.0" y="15.2" font-size="9.2" fill="#d82030" style="stroke:#d82030">5776</text>
<text x="422.4" y="64.7" font-size="9.2" fill="#d82030" style="stroke:#d82030">3325</text>
<text x="422.4" y="119.1" font-size="9.2" fill="#d82030" style="stroke:#d82030">5000</text>
<text x="422.8" y="160.5" font-size="9.2" fill="#d82030" style="stroke:#d82030">1548</text>
<text x="313.2" y="205.5" font-size="9.8" text-anchor="middle">FSC</text>
<text x="379.5" y="205.2" font-size="9.8" text-anchor="middle">FSC</text>
<text x="441.9" y="208.0" font-size="9.8" text-anchor="middle">B220</text>
<text x="469.8" y="20.45" font-size="8.6" text-anchor="middle" transform="rotate(90 469.8 20.45)" textLength="28.9" lengthAdjust="spacingAndGlyphs">Nlg: Mk</text>
<text x="469.8" y="64.75" font-size="8.6" text-anchor="middle" transform="rotate(90 469.8 64.75)" textLength="36.9" lengthAdjust="spacingAndGlyphs">Nlg: Bmi1</text>
<text x="469.8" y="116.85000000000001" font-size="8.6" text-anchor="middle" transform="rotate(90 469.8 116.85000000000001)" textLength="47.5" lengthAdjust="spacingAndGlyphs">Scl/p210; Mk</text>
<text x="469.8" y="174.45" font-size="8.6" text-anchor="middle" transform="rotate(90 469.8 174.45)" textLength="56.3" lengthAdjust="spacingAndGlyphs">Scl/p210; Bmi1</text>
<text x="10.0" y="254.0" font-size="13.5">C</text>
<line x1="51.5" y1="270.5" x2="51.5" y2="391.2" stroke="#000" stroke-width="1.5"/>
<line x1="47.1" y1="270.5" x2="51.5" y2="270.5" stroke="#000" stroke-width="1.5"/>
<text x="44.2" y="270.7" font-size="5.2" text-anchor="end">02</text>
<text x="36.92" y="272.7" font-size="8.0" text-anchor="end">10</text>
<text x="27.12" y="273.4" font-size="6.56" text-anchor="end">x</text>
<text x="23.08" y="272.7" font-size="8.0" text-anchor="end">1</text>
<line x1="47.1" y1="285.5875" x2="51.5" y2="285.5875" stroke="#000" stroke-width="1.5"/>
<text x="44.2" y="285.8" font-size="5.2" text-anchor="end">01</text>
<text x="36.92" y="287.8" font-size="8.0" text-anchor="end">10</text>
<text x="27.12" y="288.5" font-size="6.56" text-anchor="end">x</text>
<text x="23.08" y="287.8" font-size="8.0" text-anchor="end">1</text>
<line x1="47.1" y1="300.675" x2="51.5" y2="300.675" stroke="#000" stroke-width="1.5"/>
<text x="44.2" y="300.9" font-size="5.2" text-anchor="end">00</text>
<text x="36.92" y="302.9" font-size="8.0" text-anchor="end">10</text>
<text x="27.12" y="303.6" font-size="6.56" text-anchor="end">x</text>
<text x="23.08" y="302.9" font-size="8.0" text-anchor="end">1</text>
<line x1="47.1" y1="315.7625" x2="51.5" y2="315.7625" stroke="#000" stroke-width="1.5"/>
<text x="44.2" y="316.0" font-size="5.2" text-anchor="end">-01</text>
<text x="35.19" y="318.0" font-size="8.0" text-anchor="end">10</text>
<text x="25.39" y="318.7" font-size="6.56" text-anchor="end">x</text>
<text x="21.35" y="318.0" font-size="8.0" text-anchor="end">1</text>
<line x1="47.1" y1="330.85" x2="51.5" y2="330.85" stroke="#000" stroke-width="1.5"/>
<text x="44.2" y="331.1" font-size="5.2" text-anchor="end">-02</text>
<text x="35.19" y="333.1" font-size="8.0" text-anchor="end">10</text>
<text x="25.39" y="333.8" font-size="6.56" text-anchor="end">x</text>
<text x="21.35" y="333.1" font-size="8.0" text-anchor="end">1</text>
<line x1="47.1" y1="345.9375" x2="51.5" y2="345.9375" stroke="#000" stroke-width="1.5"/>
<text x="44.2" y="346.1" font-size="5.2" text-anchor="end">-03</text>
<text x="35.19" y="348.1" font-size="8.0" text-anchor="end">10</text>
<text x="25.39" y="348.8" font-size="6.56" text-anchor="end">x</text>
<text x="21.35" y="348.1" font-size="8.0" text-anchor="end">1</text>
<line x1="47.1" y1="361.025" x2="51.5" y2="361.025" stroke="#000" stroke-width="1.5"/>
<text x="44.2" y="361.2" font-size="5.2" text-anchor="end">-04</text>
<text x="35.19" y="363.2" font-size="8.0" text-anchor="end">10</text>
<text x="25.39" y="363.9" font-size="6.56" text-anchor="end">x</text>
<text x="21.35" y="363.2" font-size="8.0" text-anchor="end">1</text>
<line x1="47.1" y1="376.11249999999995" x2="51.5" y2="376.11249999999995" stroke="#000" stroke-width="1.5"/>
<text x="44.2" y="376.3" font-size="5.2" text-anchor="end">-05</text>
<text x="35.19" y="378.3" font-size="8.0" text-anchor="end">10</text>
<text x="25.39" y="379.0" font-size="6.56" text-anchor="end">x</text>
<text x="21.35" y="378.3" font-size="8.0" text-anchor="end">1</text>
<line x1="47.1" y1="391.2" x2="51.5" y2="391.2" stroke="#000" stroke-width="1.5"/>
<text x="44.2" y="391.4" font-size="5.2" text-anchor="end">-06</text>
<text x="35.19" y="393.4" font-size="8.0" text-anchor="end">10</text>
<text x="25.39" y="394.1" font-size="6.56" text-anchor="end">x</text>
<text x="21.35" y="393.4" font-size="8.0" text-anchor="end">1</text>
<line x1="47.2" y1="391.2" x2="142.6" y2="391.2" stroke="#000" stroke-width="1.5"/>
<text x="6.4" y="331.8" font-size="8.8" text-anchor="middle" transform="rotate(-90 6.4 331.8)" textLength="88" lengthAdjust="spacingAndGlyphs">Relative Expression</text>
<rect x="56.20" y="257.60" width="15.10" height="4.20" fill="#000" stroke="none" stroke-width="1"/>
<text x="79.8" y="262.6" font-size="7.9">Scl</text>
<rect x="56.20" y="269.70" width="15.10" height="4.20" fill="#1db51d" stroke="none" stroke-width="1"/>
<text x="79.8" y="274.7" font-size="7.9" textLength="27.0" lengthAdjust="spacingAndGlyphs">Hmgb3</text>
<rect x="56.20" y="281.80" width="15.10" height="4.20" fill="#1f7ea3" stroke="none" stroke-width="1"/>
<text x="79.8" y="286.8" font-size="7.9" textLength="21.5" lengthAdjust="spacingAndGlyphs">Cbx5</text>
<rect x="56.20" y="294.70" width="15.10" height="4.20" fill="#ee4a55" stroke="none" stroke-width="1"/>
<text x="79.8" y="299.7" font-size="7.9" textLength="25.5" lengthAdjust="spacingAndGlyphs">Runx1</text>
<rect x="56.20" y="307.30" width="15.10" height="4.20" fill="#6a0fa8" stroke="none" stroke-width="1"/>
<text x="79.8" y="312.3" font-size="7.9" textLength="33.0" lengthAdjust="spacingAndGlyphs">BCR-ABL</text>
<line x1="57.4" y1="391.2" x2="57.4" y2="396.2" stroke="#000" stroke-width="1.3"/>
<line x1="64.4" y1="391.2" x2="64.4" y2="396.2" stroke="#000" stroke-width="1.3"/>
<text x="59.9" y="383.4" font-size="7.3" text-anchor="middle" transform="rotate(-90 59.9 383.4)" textLength="10.0" lengthAdjust="spacingAndGlyphs">ND</text>
<path d="M62.2,391.2 L62.2,379.40000000000003 Q62.2,377.6 64.4,377.6 Q66.60000000000001,377.6 66.60000000000001,379.40000000000003 L66.60000000000001,391.2 Z" fill="#000"/>
<text x="59.8" y="398.8" font-size="7.2" font-weight="normal" text-anchor="end" transform="rotate(-90 59.8 398.8)" textLength="10.2" lengthAdjust="spacingAndGlyphs">Mk</text>
<text x="66.80000000000001" y="399.6" font-size="7.2" font-weight="normal" text-anchor="end" transform="rotate(-90 66.80000000000001 399.6)" textLength="16.6" lengthAdjust="spacingAndGlyphs">Bmi1</text>
<line x1="75.8" y1="391.2" x2="75.8" y2="396.2" stroke="#000" stroke-width="1.3"/>
<line x1="83.5" y1="391.2" x2="83.5" y2="396.2" stroke="#000" stroke-width="1.3"/>
<text x="78.3" y="383.4" font-size="7.3" text-anchor="middle" transform="rotate(-90 78.3 383.4)" textLength="10.0" lengthAdjust="spacingAndGlyphs">ND</text>
<rect x="81.30" y="333.50" width="4.40" height="57.70" fill="#1db51d" stroke="none" stroke-width="1"/>
<rect x="81.30" y="332.70" width="4.40" height="1.80" fill="#111" stroke="none" stroke-width="1"/>
<text x="78.2" y="398.8" font-size="7.2" font-weight="normal" text-anchor="end" transform="rotate(-90 78.2 398.8)" textLength="10.2" lengthAdjust="spacingAndGlyphs">Mk</text>
<text x="85.9" y="399.6" font-size="7.2" font-weight="normal" text-anchor="end" transform="rotate(-90 85.9 399.6)" textLength="16.6" lengthAdjust="spacingAndGlyphs">Bmi1</text>
<line x1="94.3" y1="391.2" x2="94.3" y2="396.2" stroke="#000" stroke-width="1.3"/>
<line x1="102.4" y1="391.2" x2="102.4" y2="396.2" stroke="#000" stroke-width="1.3"/>
<text x="96.8" y="383.4" font-size="7.3" text-anchor="middle" transform="rotate(-90 96.8 383.4)" textLength="10.0" lengthAdjust="spacingAndGlyphs">ND</text>
<rect x="100.20" y="326.30" width="4.40" height="64.90" fill="#1f7ea3" stroke="none" stroke-width="1"/>
<rect x="100.20" y="325.50" width="4.40" height="1.80" fill="#111" stroke="none" stroke-width="1"/>
<text x="96.7" y="398.8" font-size="7.2" font-weight="normal" text-anchor="end" transform="rotate(-90 96.7 398.8)" textLength="10.2" lengthAdjust="spacingAndGlyphs">Mk</text>
<text x="104.80000000000001" y="399.6" font-size="7.2" font-weight="normal" text-anchor="end" transform="rotate(-90 104.80000000000001 399.6)" textLength="16.6" lengthAdjust="spacingAndGlyphs">Bmi1</text>
<line x1="112.8" y1="391.2" x2="112.8" y2="396.2" stroke="#000" stroke-width="1.3"/>
<line x1="121.2" y1="391.2" x2="121.2" y2="396.2" stroke="#000" stroke-width="1.3"/>
<text x="115.3" y="383.4" font-size="7.3" text-anchor="middle" transform="rotate(-90 115.3 383.4)" textLength="10.0" lengthAdjust="spacingAndGlyphs">ND</text>
<rect x="119.00" y="320.40" width="4.40" height="70.80" fill="#ee4a55" stroke="none" stroke-width="1"/>
<rect x="119.00" y="319.60" width="4.40" height="1.80" fill="#111" stroke="none" stroke-width="1"/>
<text x="115.2" y="398.8" font-size="7.2" font-weight="normal" text-anchor="end" transform="rotate(-90 115.2 398.8)" textLength="10.2" lengthAdjust="spacingAndGlyphs">Mk</text>
<text x="123.60000000000001" y="399.6" font-size="7.2" font-weight="normal" text-anchor="end" transform="rotate(-90 123.60000000000001 399.6)" textLength="16.6" lengthAdjust="spacingAndGlyphs">Bmi1</text>
<line x1="131.5" y1="391.2" x2="131.5" y2="396.2" stroke="#000" stroke-width="1.3"/>
<line x1="140.1" y1="391.2" x2="140.1" y2="396.2" stroke="#000" stroke-width="1.3"/>
<text x="134.0" y="383.4" font-size="7.3" text-anchor="middle" transform="rotate(-90 134.0 383.4)" textLength="10.0" lengthAdjust="spacingAndGlyphs">ND</text>
<rect x="137.90" y="273.30" width="4.40" height="117.90" fill="#6a0fa8" stroke="none" stroke-width="1"/>
<rect x="137.90" y="272.50" width="4.40" height="1.80" fill="#111" stroke="none" stroke-width="1"/>
<text x="133.9" y="398.8" font-size="7.2" font-weight="normal" text-anchor="end" transform="rotate(-90 133.9 398.8)" textLength="10.2" lengthAdjust="spacingAndGlyphs">Mk</text>
<text x="142.5" y="399.6" font-size="7.2" font-weight="normal" text-anchor="end" transform="rotate(-90 142.5 399.6)" textLength="16.6" lengthAdjust="spacingAndGlyphs">Bmi1</text>
<line x1="53" y1="419.5" x2="144" y2="419.5" stroke="#000" stroke-width="1.2"/>
<text x="98.5" y="430.4" font-size="8.7" text-anchor="middle" textLength="40.4" lengthAdjust="spacingAndGlyphs">Scl/p210</text>
<text x="159.8" y="256.2" font-size="13.2">D</text>
<line x1="209.2" y1="269.1" x2="209.2" y2="391.0" stroke="#000" stroke-width="1.5"/>
<line x1="205.0" y1="269.1" x2="209.2" y2="269.1" stroke="#000" stroke-width="1.5"/>
<text x="202.0" y="269.3" font-size="5.2" text-anchor="end">02</text>
<text x="194.72" y="271.3" font-size="7.9" text-anchor="end">10</text>
<text x="185.04" y="272.0" font-size="6.478" text-anchor="end">x</text>
<text x="181.03" y="271.3" font-size="7.9" text-anchor="end">1</text>
<line x1="205.0" y1="284.33750000000003" x2="209.2" y2="284.33750000000003" stroke="#000" stroke-width="1.5"/>
<text x="202.0" y="284.5" font-size="5.2" text-anchor="end">01</text>
<text x="194.72" y="286.5" font-size="7.9" text-anchor="end">10</text>
<text x="185.04" y="287.2" font-size="6.478" text-anchor="end">x</text>
<text x="181.03" y="286.5" font-size="7.9" text-anchor="end">1</text>
<line x1="205.0" y1="299.57500000000005" x2="209.2" y2="299.57500000000005" stroke="#000" stroke-width="1.5"/>
<text x="202.0" y="299.8" font-size="5.2" text-anchor="end">00</text>
<text x="194.72" y="301.8" font-size="7.9" text-anchor="end">10</text>
<text x="185.04" y="302.5" font-size="6.478" text-anchor="end">x</text>
<text x="181.03" y="301.8" font-size="7.9" text-anchor="end">1</text>
<line x1="205.0" y1="314.8125" x2="209.2" y2="314.8125" stroke="#000" stroke-width="1.5"/>
<text x="202.0" y="315.0" font-size="5.2" text-anchor="end">-01</text>
<text x="192.99" y="317.0" font-size="7.9" text-anchor="end">10</text>
<text x="183.31" y="317.7" font-size="6.478" text-anchor="end">x</text>
<text x="179.3" y="317.0" font-size="7.9" text-anchor="end">1</text>
<line x1="205.0" y1="330.05" x2="209.2" y2="330.05" stroke="#000" stroke-width="1.5"/>
<text x="202.0" y="330.2" font-size="5.2" text-anchor="end">-02</text>
<text x="192.99" y="332.2" font-size="7.9" text-anchor="end">10</text>
<text x="183.31" y="332.9" font-size="6.478" text-anchor="end">x</text>
<text x="179.3" y="332.2" font-size="7.9" text-anchor="end">1</text>
<line x1="205.0" y1="345.2875" x2="209.2" y2="345.2875" stroke="#000" stroke-width="1.5"/>
<text x="202.0" y="345.5" font-size="5.2" text-anchor="end">-03</text>
<text x="192.99" y="347.5" font-size="7.9" text-anchor="end">10</text>
<text x="183.31" y="348.2" font-size="6.478" text-anchor="end">x</text>
<text x="179.3" y="347.5" font-size="7.9" text-anchor="end">1</text>
<line x1="205.0" y1="360.525" x2="209.2" y2="360.525" stroke="#000" stroke-width="1.5"/>
<text x="202.0" y="360.7" font-size="5.2" text-anchor="end">-04</text>
<text x="192.99" y="362.7" font-size="7.9" text-anchor="end">10</text>
<text x="183.31" y="363.4" font-size="6.478" text-anchor="end">x</text>
<text x="179.3" y="362.7" font-size="7.9" text-anchor="end">1</text>
<line x1="205.0" y1="375.7625" x2="209.2" y2="375.7625" stroke="#000" stroke-width="1.5"/>
<text x="202.0" y="376.0" font-size="5.2" text-anchor="end">-05</text>
<text x="192.99" y="378.0" font-size="7.9" text-anchor="end">10</text>
<text x="183.31" y="378.7" font-size="6.478" text-anchor="end">x</text>
<text x="179.3" y="378.0" font-size="7.9" text-anchor="end">1</text>
<line x1="205.0" y1="391.0" x2="209.2" y2="391.0" stroke="#000" stroke-width="1.5"/>
<text x="202.0" y="391.2" font-size="5.2" text-anchor="end">-06</text>
<text x="192.99" y="393.2" font-size="7.9" text-anchor="end">10</text>
<text x="183.31" y="393.9" font-size="6.478" text-anchor="end">x</text>
<text x="179.3" y="393.2" font-size="7.9" text-anchor="end">1</text>
<line x1="205.2" y1="391.0" x2="258.5" y2="391.0" stroke="#000" stroke-width="1.5"/>
<text x="164.6" y="331.1" font-size="8.8" text-anchor="middle" transform="rotate(-90 164.6 331.1)" textLength="88.7" lengthAdjust="spacingAndGlyphs">Relative Expression</text>
<rect x="213.80" y="270.50" width="15.10" height="4.10" fill="#000" stroke="none" stroke-width="1"/>
<text x="238.2" y="275.5" font-size="7.6">Scl</text>
<rect x="213.80" y="281.50" width="15.10" height="4.00" fill="#6a0fa8" stroke="none" stroke-width="1"/>
<text x="238.2" y="286.3" font-size="7.6" textLength="33" lengthAdjust="spacingAndGlyphs">BCR-ABL</text>
<path d="M214.00,391.0 L214.00,312.40 Q214.00,310.5 216.85,310.5 Q219.70,310.5 219.70,312.40 L219.70,391.0 Z" fill="#000"/>
<path d="M223.10,391.0 L223.10,312.40 Q223.10,310.5 225.95,310.5 Q228.80,310.5 228.80,312.40 L228.80,391.0 Z" fill="#000"/>
<path d="M238.10,391.0 L238.10,312.40 Q238.10,310.5 240.95,310.5 Q243.80,310.5 243.80,312.40 L243.80,391.0 Z" fill="#6a0fa8"/>
<path d="M238.10,312.40 Q238.10,310.5 240.95,310.5 Q243.80,310.5 243.80,312.40 Z" fill="#111"/>
<path d="M247.60,391.0 L247.60,312.40 Q247.60,310.5 250.45,310.5 Q253.30,310.5 253.30,312.40 L253.30,391.0 Z" fill="#6a0fa8"/>
<path d="M247.60,312.40 Q247.60,310.5 250.45,310.5 Q253.30,310.5 253.30,312.40 Z" fill="#111"/>
<line x1="216.85" y1="391.0" x2="216.85" y2="395.5" stroke="#000" stroke-width="1.3"/>
<text x="219.45" y="398.8" font-size="7.3" font-weight="normal" text-anchor="end" transform="rotate(-90 219.45 398.8)" textLength="10.1" lengthAdjust="spacingAndGlyphs">Mk</text>
<line x1="225.95" y1="391.0" x2="225.95" y2="395.5" stroke="#000" stroke-width="1.3"/>
<text x="228.54999999999998" y="398.8" font-size="7.3" font-weight="normal" text-anchor="end" transform="rotate(-90 228.54999999999998 398.8)" textLength="16.9" lengthAdjust="spacingAndGlyphs">Bmi1</text>
<line x1="240.95" y1="391.0" x2="240.95" y2="395.5" stroke="#000" stroke-width="1.3"/>
<text x="243.54999999999998" y="398.8" font-size="7.3" font-weight="normal" text-anchor="end" transform="rotate(-90 243.54999999999998 398.8)" textLength="10.1" lengthAdjust="spacingAndGlyphs">Mk</text>
<line x1="250.45" y1="391.0" x2="250.45" y2="395.5" stroke="#000" stroke-width="1.3"/>
<text x="253.04999999999998" y="398.8" font-size="7.3" font-weight="normal" text-anchor="end" transform="rotate(-90 253.04999999999998 398.8)" textLength="16.9" lengthAdjust="spacingAndGlyphs">Bmi1</text>
<text x="291.6" y="254.8" font-size="13.2">E</text>
<line x1="324.6" y1="268.4" x2="324.6" y2="390.0" stroke="#000" stroke-width="1.5"/>
<line x1="320.40000000000003" y1="268.4" x2="324.6" y2="268.4" stroke="#000" stroke-width="1.5"/>
<text x="317.0" y="268.6" font-size="5.2" text-anchor="end">02</text>
<text x="309.72" y="270.6" font-size="7.9" text-anchor="end">10</text>
<text x="300.04" y="271.3" font-size="6.478" text-anchor="end">x</text>
<text x="296.03" y="270.6" font-size="7.9" text-anchor="end">1</text>
<line x1="320.40000000000003" y1="283.59999999999997" x2="324.6" y2="283.59999999999997" stroke="#000" stroke-width="1.5"/>
<text x="317.0" y="283.8" font-size="5.2" text-anchor="end">01</text>
<text x="309.72" y="285.8" font-size="7.9" text-anchor="end">10</text>
<text x="300.04" y="286.5" font-size="6.478" text-anchor="end">x</text>
<text x="296.03" y="285.8" font-size="7.9" text-anchor="end">1</text>
<line x1="320.40000000000003" y1="298.79999999999995" x2="324.6" y2="298.79999999999995" stroke="#000" stroke-width="1.5"/>
<text x="317.0" y="299.0" font-size="5.2" text-anchor="end">00</text>
<text x="309.72" y="301.0" font-size="7.9" text-anchor="end">10</text>
<text x="300.04" y="301.7" font-size="6.478" text-anchor="end">x</text>
<text x="296.03" y="301.0" font-size="7.9" text-anchor="end">1</text>
<line x1="320.40000000000003" y1="314.0" x2="324.6" y2="314.0" stroke="#000" stroke-width="1.5"/>
<text x="317.0" y="314.2" font-size="5.2" text-anchor="end">-01</text>
<text x="307.99" y="316.2" font-size="7.9" text-anchor="end">10</text>
<text x="298.31" y="316.9" font-size="6.478" text-anchor="end">x</text>
<text x="294.3" y="316.2" font-size="7.9" text-anchor="end">1</text>
<line x1="320.40000000000003" y1="329.2" x2="324.6" y2="329.2" stroke="#000" stroke-width="1.5"/>
<text x="317.0" y="329.4" font-size="5.2" text-anchor="end">-02</text>
<text x="307.99" y="331.4" font-size="7.9" text-anchor="end">10</text>
<text x="298.31" y="332.1" font-size="6.478" text-anchor="end">x</text>
<text x="294.3" y="331.4" font-size="7.9" text-anchor="end">1</text>
<line x1="320.40000000000003" y1="344.4" x2="324.6" y2="344.4" stroke="#000" stroke-width="1.5"/>
<text x="317.0" y="344.6" font-size="5.2" text-anchor="end">-03</text>
<text x="307.99" y="346.6" font-size="7.9" text-anchor="end">10</text>
<text x="298.31" y="347.3" font-size="6.478" text-anchor="end">x</text>
<text x="294.3" y="346.6" font-size="7.9" text-anchor="end">1</text>
<line x1="320.40000000000003" y1="359.6" x2="324.6" y2="359.6" stroke="#000" stroke-width="1.5"/>
<text x="317.0" y="359.8" font-size="5.2" text-anchor="end">-04</text>
<text x="307.99" y="361.8" font-size="7.9" text-anchor="end">10</text>
<text x="298.31" y="362.5" font-size="6.478" text-anchor="end">x</text>
<text x="294.3" y="361.8" font-size="7.9" text-anchor="end">1</text>
<line x1="320.40000000000003" y1="374.8" x2="324.6" y2="374.8" stroke="#000" stroke-width="1.5"/>
<text x="317.0" y="375.0" font-size="5.2" text-anchor="end">-05</text>
<text x="307.99" y="377.0" font-size="7.9" text-anchor="end">10</text>
<text x="298.31" y="377.7" font-size="6.478" text-anchor="end">x</text>
<text x="294.3" y="377.0" font-size="7.9" text-anchor="end">1</text>
<line x1="320.40000000000003" y1="390.0" x2="324.6" y2="390.0" stroke="#000" stroke-width="1.5"/>
<text x="317.0" y="390.2" font-size="5.2" text-anchor="end">-06</text>
<text x="307.99" y="392.2" font-size="7.9" text-anchor="end">10</text>
<text x="298.31" y="392.9" font-size="6.478" text-anchor="end">x</text>
<text x="294.3" y="392.2" font-size="7.9" text-anchor="end">1</text>
<line x1="320.4" y1="390.0" x2="369.4" y2="390.0" stroke="#000" stroke-width="1.5"/>
<text x="279.8" y="330.3" font-size="8.8" text-anchor="middle" transform="rotate(-90 279.8 330.3)" textLength="87.7" lengthAdjust="spacingAndGlyphs">Relative Expression</text>
<rect x="329.50" y="271.50" width="15.10" height="4.20" fill="#000" stroke="none" stroke-width="1"/>
<text x="353.5" y="276.3" font-size="7.6">Scl</text>
<rect x="329.50" y="282.30" width="15.10" height="4.20" fill="#6a0fa8" stroke="none" stroke-width="1"/>
<text x="353.5" y="287.1" font-size="7.6" textLength="33.4" lengthAdjust="spacingAndGlyphs">BCR-ABL</text>
<path d="M329.00,390.0 L329.00,314.30 Q329.00,312.4 331.85,312.4 Q334.70,312.4 334.70,314.30 L334.70,390.0 Z" fill="#000"/>
<path d="M338.10,390.0 L338.10,314.30 Q338.10,312.4 340.95,312.4 Q343.80,312.4 343.80,314.30 L343.80,390.0 Z" fill="#000"/>
<path d="M352.85,390.0 L352.85,314.50 Q352.85,312.6 355.70,312.6 Q358.55,312.6 358.55,314.50 L358.55,390.0 Z" fill="#6a0fa8"/>
<path d="M352.85,314.50 Q352.85,312.6 355.70,312.6 Q358.55,312.6 358.55,314.50 Z" fill="#111"/>
<path d="M361.90,390.0 L361.90,314.50 Q361.90,312.6 364.75,312.6 Q367.60,312.6 367.60,314.50 L367.60,390.0 Z" fill="#6a0fa8"/>
<path d="M361.90,314.50 Q361.90,312.6 364.75,312.6 Q367.60,312.6 367.60,314.50 Z" fill="#111"/>
<line x1="340.95" y1="310.6" x2="340.95" y2="313.5" stroke="#000" stroke-width="1.2"/>
<line x1="339.2" y1="310.8" x2="342.7" y2="310.8" stroke="#000" stroke-width="1.1"/>
<line x1="331.85" y1="390" x2="331.85" y2="394.4" stroke="#000" stroke-width="1.3"/>
<text x="334.45000000000005" y="397.6" font-size="7.3" font-weight="normal" text-anchor="end" transform="rotate(-90 334.45000000000005 397.6)" textLength="10.1" lengthAdjust="spacingAndGlyphs">Mk</text>
<line x1="340.95" y1="390" x2="340.95" y2="394.4" stroke="#000" stroke-width="1.3"/>
<text x="343.55" y="397.6" font-size="7.3" font-weight="normal" text-anchor="end" transform="rotate(-90 343.55 397.6)" textLength="16.9" lengthAdjust="spacingAndGlyphs">Bmi1</text>
<line x1="355.7" y1="390" x2="355.7" y2="394.4" stroke="#000" stroke-width="1.3"/>
<text x="358.3" y="397.6" font-size="7.3" font-weight="normal" text-anchor="end" transform="rotate(-90 358.3 397.6)" textLength="10.1" lengthAdjust="spacingAndGlyphs">Mk</text>
<line x1="364.75" y1="390" x2="364.75" y2="394.4" stroke="#000" stroke-width="1.3"/>
<text x="367.35" y="397.6" font-size="7.3" font-weight="normal" text-anchor="end" transform="rotate(-90 367.35 397.6)" textLength="16.9" lengthAdjust="spacingAndGlyphs">Bmi1</text>
<text x="392.4" y="253.8" font-size="13.5">F</text>
<line x1="418.6" y1="271.9" x2="418.6" y2="392.5" stroke="#000" stroke-width="1.5"/>
<line x1="418.6" y1="392.5" x2="492.7" y2="392.5" stroke="#000" stroke-width="1.5"/>
<line x1="414.4" y1="283.8" x2="418.6" y2="283.8" stroke="#000" stroke-width="1.5"/>
<text x="413.6" y="287.0" font-size="8.8" text-anchor="end">100</text>
<line x1="414.4" y1="310.975" x2="418.6" y2="310.975" stroke="#000" stroke-width="1.5"/>
<text x="413.6" y="314.2" font-size="8.8" text-anchor="end">75</text>
<line x1="414.4" y1="338.15" x2="418.6" y2="338.15" stroke="#000" stroke-width="1.5"/>
<text x="413.6" y="341.3" font-size="8.8" text-anchor="end">50</text>
<line x1="414.4" y1="365.325" x2="418.6" y2="365.325" stroke="#000" stroke-width="1.5"/>
<text x="413.6" y="368.5" font-size="8.8" text-anchor="end">25</text>
<line x1="414.4" y1="392.5" x2="418.6" y2="392.5" stroke="#000" stroke-width="1.5"/>
<text x="413.6" y="395.7" font-size="8.8" text-anchor="end">0</text>
<text x="391.1" y="333.0" font-size="8.8" text-anchor="middle" transform="rotate(-90 391.1 333.0)" textLength="87.6" lengthAdjust="spacingAndGlyphs">Relative Expression</text>
<rect x="422.30" y="257.60" width="15.30" height="5.00" fill="#000" stroke="none" stroke-width="1"/>
<text x="446.0" y="264.6" font-size="9.2">p16</text>
<rect x="422.30" y="271.00" width="15.30" height="5.00" fill="#26a0bd" stroke="none" stroke-width="1"/>
<text x="446.0" y="276.6" font-size="9.2" textLength="22.6" lengthAdjust="spacingAndGlyphs">Pax5</text>
<rect x="476.90" y="257.60" width="15.60" height="5.60" fill="#17c21a" stroke="none" stroke-width="1"/>
<text x="501.0" y="264.6" font-size="9.2">Ebf1</text>
<rect x="476.90" y="271.00" width="15.60" height="5.00" fill="#f01010" stroke="none" stroke-width="1"/>
<text x="501.0" y="276.6" font-size="9.2">Ikzf1</text>
<rect x="421.75" y="283.80" width="4.70" height="108.70" fill="#000" stroke="none" stroke-width="1"/>
<rect x="428.60" y="383.80" width="4.70" height="8.70" fill="#000" stroke="none" stroke-width="1"/>
<line x1="430.95" y1="381.63" x2="430.95" y2="384.804" stroke="#000" stroke-width="1.1"/>
<line x1="429.15" y1="381.63" x2="432.75" y2="381.63" stroke="#000" stroke-width="1.4"/>
<line x1="424.1" y1="392.5" x2="424.1" y2="396.5" stroke="#000" stroke-width="1.4"/>
<line x1="430.95" y1="392.5" x2="430.95" y2="396.5" stroke="#000" stroke-width="1.4"/>
<text x="425.70" y="409.3" font-size="6.6" transform="rotate(-90 425.70 409.3)">1<tspan font-size="5.2" dy="-2.9">st</tspan></text>
<text x="432.75" y="409.3" font-size="6.6" transform="rotate(-90 432.75 409.3)">3<tspan font-size="5.2" dy="-2.9">rd</tspan></text>
<rect x="440.00" y="283.80" width="4.70" height="108.70" fill="#17c21a" stroke="none" stroke-width="1"/>
<rect x="446.95" y="369.67" width="4.70" height="22.83" fill="#17c21a" stroke="none" stroke-width="1"/>
<line x1="449.3" y1="365.8685" x2="449.3" y2="370.673" stroke="#000" stroke-width="1.1"/>
<line x1="447.5" y1="365.8685" x2="451.1" y2="365.8685" stroke="#000" stroke-width="1.4"/>
<line x1="442.35" y1="392.5" x2="442.35" y2="396.5" stroke="#000" stroke-width="1.4"/>
<line x1="449.3" y1="392.5" x2="449.3" y2="396.5" stroke="#000" stroke-width="1.4"/>
<text x="443.95" y="409.3" font-size="6.6" transform="rotate(-90 443.95 409.3)">1<tspan font-size="5.2" dy="-2.9">st</tspan></text>
<text x="451.10" y="409.3" font-size="6.6" transform="rotate(-90 451.10 409.3)">3<tspan font-size="5.2" dy="-2.9">rd</tspan></text>
<rect x="458.35" y="283.80" width="4.70" height="108.70" fill="#26a0bd" stroke="none" stroke-width="1"/>
<rect x="465.45" y="365.32" width="4.70" height="27.18" fill="#26a0bd" stroke="none" stroke-width="1"/>
<line x1="467.8" y1="362.064" x2="467.8" y2="366.325" stroke="#000" stroke-width="1.1"/>
<line x1="466.0" y1="362.064" x2="469.6" y2="362.064" stroke="#000" stroke-width="1.4"/>
<line x1="460.7" y1="392.5" x2="460.7" y2="396.5" stroke="#000" stroke-width="1.4"/>
<line x1="467.8" y1="392.5" x2="467.8" y2="396.5" stroke="#000" stroke-width="1.4"/>
<text x="462.30" y="409.3" font-size="6.6" transform="rotate(-90 462.30 409.3)">1<tspan font-size="5.2" dy="-2.9">st</tspan></text>
<text x="469.60" y="409.3" font-size="6.6" transform="rotate(-90 469.60 409.3)">3<tspan font-size="5.2" dy="-2.9">rd</tspan></text>
<rect x="476.80" y="283.80" width="4.70" height="108.70" fill="#f01010" stroke="none" stroke-width="1"/>
<rect x="483.75" y="365.32" width="4.70" height="27.18" fill="#f01010" stroke="none" stroke-width="1"/>
<line x1="486.1" y1="362.064" x2="486.1" y2="366.325" stroke="#000" stroke-width="1.1"/>
<line x1="484.3" y1="362.064" x2="487.90000000000003" y2="362.064" stroke="#000" stroke-width="1.4"/>
<line x1="479.15" y1="392.5" x2="479.15" y2="396.5" stroke="#000" stroke-width="1.4"/>
<line x1="486.1" y1="392.5" x2="486.1" y2="396.5" stroke="#000" stroke-width="1.4"/>
<text x="480.75" y="409.3" font-size="6.6" transform="rotate(-90 480.75 409.3)">1<tspan font-size="5.2" dy="-2.9">st</tspan></text>
<text x="487.90" y="409.3" font-size="6.6" transform="rotate(-90 487.90 409.3)">3<tspan font-size="5.2" dy="-2.9">rd</tspan></text>
<line x1="404" y1="412.9" x2="499" y2="412.9" stroke="#000" stroke-width="1.2"/>
<text x="457.8" y="422.0" font-size="8.7" text-anchor="middle" textLength="41.2" lengthAdjust="spacingAndGlyphs">Scl/p210</text>
</svg>
</body></html>
